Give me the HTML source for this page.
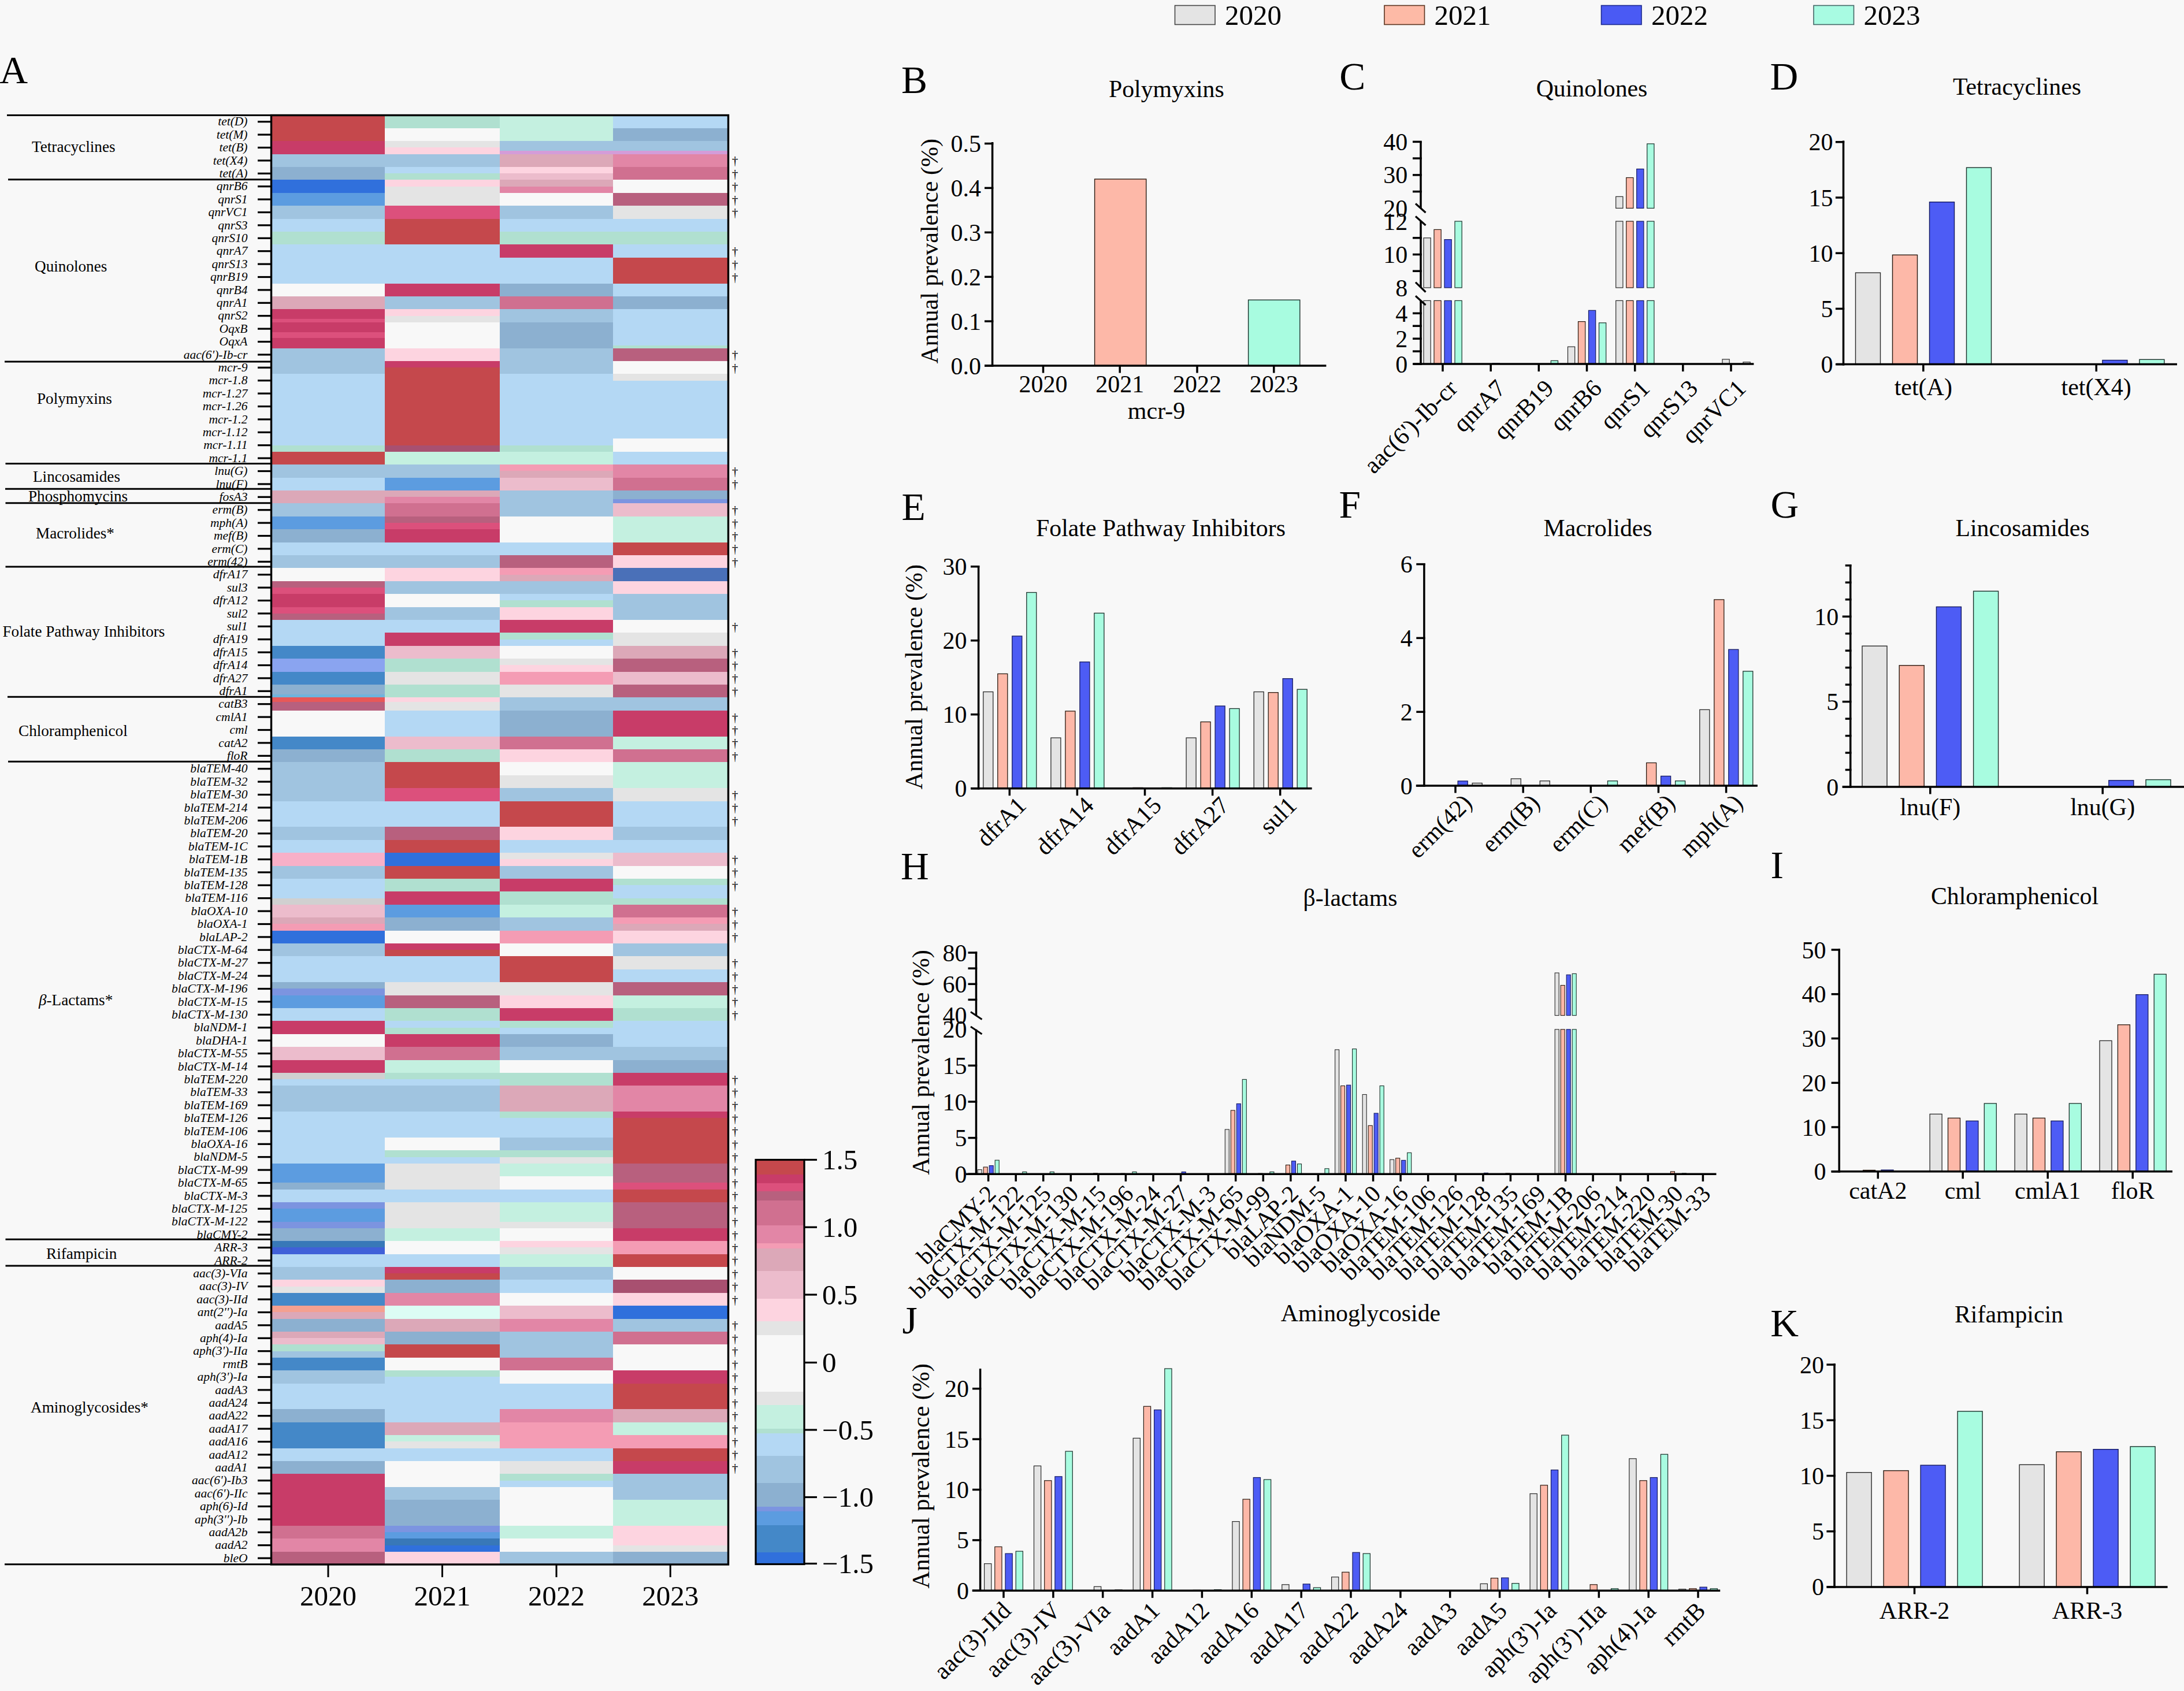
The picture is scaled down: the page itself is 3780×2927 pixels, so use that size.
<!DOCTYPE html>
<html><head><meta charset="utf-8"><title>Figure</title>
<style>html,body{margin:0;padding:0;background:#f8f8f8;}svg{display:block;}text{font-family:"Liberation Serif",serif;fill:#000;}</style></head><body>
<svg width="3780" height="2927" viewBox="0 0 3780 2927">
<rect x="0" y="0" width="3780" height="2927" fill="#f8f8f8"/>
<g shape-rendering="crispEdges">
<rect x="470.0" y="199.3" width="196.0" height="22.8" fill="#c5484c"/>
<rect x="666.0" y="199.3" width="199.0" height="22.8" fill="#b0e0d0"/>
<rect x="865.0" y="199.3" width="196.0" height="22.8" fill="#c4f0e0"/>
<rect x="1061.0" y="199.3" width="198.5" height="22.8" fill="#b4d8f4"/>
<rect x="470.0" y="221.7" width="196.0" height="22.8" fill="#c5484c"/>
<rect x="666.0" y="221.7" width="199.0" height="22.8" fill="#f8f8f8"/>
<rect x="865.0" y="221.7" width="196.0" height="22.8" fill="#c4f0e0"/>
<rect x="1061.0" y="221.7" width="198.5" height="22.8" fill="#8cb0d0"/>
<rect x="470.0" y="244.1" width="196.0" height="22.8" fill="#c83c68"/>
<rect x="666.0" y="244.1" width="199.0" height="11.6" fill="#e4e4e4"/>
<rect x="666.0" y="255.3" width="199.0" height="11.6" fill="#fdd4e0"/>
<rect x="865.0" y="244.1" width="196.0" height="6.0" fill="#a0c4e0"/>
<rect x="865.0" y="249.7" width="196.0" height="6.0" fill="#a0c4e0"/>
<rect x="865.0" y="255.3" width="196.0" height="6.0" fill="#a0c4e0"/>
<rect x="865.0" y="260.9" width="196.0" height="6.0" fill="#d49cd8"/>
<rect x="1061.0" y="244.1" width="198.5" height="6.0" fill="#a0c4e0"/>
<rect x="1061.0" y="249.7" width="198.5" height="6.0" fill="#a0c4e0"/>
<rect x="1061.0" y="255.3" width="198.5" height="6.0" fill="#a0c4e0"/>
<rect x="1061.0" y="260.9" width="198.5" height="6.0" fill="#d49cd8"/>
<rect x="470.0" y="266.5" width="196.0" height="22.8" fill="#a0c4e0"/>
<rect x="666.0" y="266.5" width="199.0" height="22.8" fill="#a0c4e0"/>
<rect x="865.0" y="266.5" width="196.0" height="22.8" fill="#dca8b8"/>
<rect x="1061.0" y="266.5" width="198.5" height="22.8" fill="#e286a6"/>
<rect x="470.0" y="288.9" width="196.0" height="22.8" fill="#8cb0d0"/>
<rect x="666.0" y="288.9" width="199.0" height="11.6" fill="#b4d8f4"/>
<rect x="666.0" y="300.1" width="199.0" height="11.6" fill="#b0e0d0"/>
<rect x="865.0" y="288.9" width="196.0" height="11.6" fill="#fdd4e0"/>
<rect x="865.0" y="300.1" width="196.0" height="11.6" fill="#ecbccc"/>
<rect x="1061.0" y="288.9" width="198.5" height="22.8" fill="#d07090"/>
<rect x="470.0" y="311.3" width="196.0" height="22.8" fill="#3070dc"/>
<rect x="666.0" y="311.3" width="199.0" height="11.6" fill="#fdd4e0"/>
<rect x="666.0" y="322.5" width="199.0" height="11.6" fill="#e4e4e4"/>
<rect x="865.0" y="311.3" width="196.0" height="11.6" fill="#dca8b8"/>
<rect x="865.0" y="322.5" width="196.0" height="11.6" fill="#e286a6"/>
<rect x="1061.0" y="311.3" width="198.5" height="22.8" fill="#f8f8f8"/>
<rect x="470.0" y="333.7" width="196.0" height="22.8" fill="#5c9ce0"/>
<rect x="666.0" y="333.7" width="199.0" height="22.8" fill="#e4e4e4"/>
<rect x="865.0" y="333.7" width="196.0" height="22.8" fill="#f8f8f8"/>
<rect x="1061.0" y="333.7" width="198.5" height="22.8" fill="#b8607e"/>
<rect x="470.0" y="356.1" width="196.0" height="22.8" fill="#a0c4e0"/>
<rect x="666.0" y="356.1" width="199.0" height="22.8" fill="#dc507c"/>
<rect x="865.0" y="356.1" width="196.0" height="22.8" fill="#a0c4e0"/>
<rect x="1061.0" y="356.1" width="198.5" height="22.8" fill="#e4e4e4"/>
<rect x="470.0" y="378.5" width="196.0" height="22.8" fill="#b4d8f4"/>
<rect x="666.0" y="378.5" width="199.0" height="22.8" fill="#c5484c"/>
<rect x="865.0" y="378.5" width="196.0" height="22.8" fill="#b4d8f4"/>
<rect x="1061.0" y="378.5" width="198.5" height="22.8" fill="#b4d8f4"/>
<rect x="470.0" y="400.9" width="196.0" height="22.8" fill="#b0e0d0"/>
<rect x="666.0" y="400.9" width="199.0" height="22.8" fill="#c5484c"/>
<rect x="865.0" y="400.9" width="196.0" height="22.8" fill="#b0e0d0"/>
<rect x="1061.0" y="400.9" width="198.5" height="22.8" fill="#b0e0d0"/>
<rect x="470.0" y="423.3" width="196.0" height="22.8" fill="#b4d8f4"/>
<rect x="666.0" y="423.3" width="199.0" height="22.8" fill="#b4d8f4"/>
<rect x="865.0" y="423.3" width="196.0" height="22.8" fill="#c83c68"/>
<rect x="1061.0" y="423.3" width="198.5" height="22.8" fill="#b4d8f4"/>
<rect x="470.0" y="445.7" width="196.0" height="22.8" fill="#b4d8f4"/>
<rect x="666.0" y="445.7" width="199.0" height="22.8" fill="#b4d8f4"/>
<rect x="865.0" y="445.7" width="196.0" height="22.8" fill="#b4d8f4"/>
<rect x="1061.0" y="445.7" width="198.5" height="22.8" fill="#c5484c"/>
<rect x="470.0" y="468.1" width="196.0" height="22.8" fill="#b4d8f4"/>
<rect x="666.0" y="468.1" width="199.0" height="22.8" fill="#b4d8f4"/>
<rect x="865.0" y="468.1" width="196.0" height="22.8" fill="#b4d8f4"/>
<rect x="1061.0" y="468.1" width="198.5" height="22.8" fill="#c5484c"/>
<rect x="470.0" y="490.5" width="196.0" height="22.8" fill="#f8f8f8"/>
<rect x="666.0" y="490.5" width="199.0" height="22.8" fill="#c83c68"/>
<rect x="865.0" y="490.5" width="196.0" height="22.8" fill="#8cb0d0"/>
<rect x="1061.0" y="490.5" width="198.5" height="22.8" fill="#b4d8f4"/>
<rect x="470.0" y="512.9" width="196.0" height="22.8" fill="#dca8b8"/>
<rect x="666.0" y="512.9" width="199.0" height="22.8" fill="#a0c4e0"/>
<rect x="865.0" y="512.9" width="196.0" height="22.8" fill="#d07090"/>
<rect x="1061.0" y="512.9" width="198.5" height="22.8" fill="#8cb0d0"/>
<rect x="470.0" y="535.3" width="196.0" height="6.0" fill="#c83c68"/>
<rect x="470.0" y="540.9" width="196.0" height="6.0" fill="#c83c68"/>
<rect x="470.0" y="546.5" width="196.0" height="6.0" fill="#c83c68"/>
<rect x="470.0" y="552.1" width="196.0" height="6.0" fill="#dc507c"/>
<rect x="666.0" y="535.3" width="199.0" height="11.6" fill="#fdd4e0"/>
<rect x="666.0" y="546.5" width="199.0" height="11.6" fill="#e4e4e4"/>
<rect x="865.0" y="535.3" width="196.0" height="22.8" fill="#a0c4e0"/>
<rect x="1061.0" y="535.3" width="198.5" height="22.8" fill="#b4d8f4"/>
<rect x="470.0" y="557.7" width="196.0" height="6.0" fill="#c83c68"/>
<rect x="470.0" y="563.3" width="196.0" height="6.0" fill="#c83c68"/>
<rect x="470.0" y="568.9" width="196.0" height="6.0" fill="#c83c68"/>
<rect x="470.0" y="574.5" width="196.0" height="6.0" fill="#dc507c"/>
<rect x="666.0" y="557.7" width="199.0" height="22.8" fill="#f8f8f8"/>
<rect x="865.0" y="557.7" width="196.0" height="22.8" fill="#8cb0d0"/>
<rect x="1061.0" y="557.7" width="198.5" height="22.8" fill="#b4d8f4"/>
<rect x="470.0" y="580.1" width="196.0" height="4.9" fill="#dc507c"/>
<rect x="470.0" y="584.6" width="196.0" height="4.9" fill="#c83c68"/>
<rect x="470.0" y="589.1" width="196.0" height="4.9" fill="#c83c68"/>
<rect x="470.0" y="593.5" width="196.0" height="4.9" fill="#c83c68"/>
<rect x="470.0" y="598.0" width="196.0" height="4.9" fill="#c83c68"/>
<rect x="666.0" y="580.1" width="199.0" height="22.8" fill="#f8f8f8"/>
<rect x="865.0" y="580.1" width="196.0" height="22.8" fill="#8cb0d0"/>
<rect x="1061.0" y="580.1" width="198.5" height="4.9" fill="#b4d8f4"/>
<rect x="1061.0" y="584.6" width="198.5" height="4.9" fill="#b4d8f4"/>
<rect x="1061.0" y="589.1" width="198.5" height="4.9" fill="#b4d8f4"/>
<rect x="1061.0" y="593.5" width="198.5" height="4.9" fill="#b4d8f4"/>
<rect x="1061.0" y="598.0" width="198.5" height="4.9" fill="#b0e0d0"/>
<rect x="470.0" y="602.5" width="196.0" height="22.8" fill="#a0c4e0"/>
<rect x="666.0" y="602.5" width="199.0" height="22.8" fill="#fdd4e0"/>
<rect x="865.0" y="602.5" width="196.0" height="22.8" fill="#a0c4e0"/>
<rect x="1061.0" y="602.5" width="198.5" height="22.8" fill="#b8607e"/>
<rect x="470.0" y="624.9" width="196.0" height="22.8" fill="#a0c4e0"/>
<rect x="666.0" y="624.9" width="199.0" height="11.6" fill="#c83c68"/>
<rect x="666.0" y="636.1" width="199.0" height="11.6" fill="#c5484c"/>
<rect x="865.0" y="624.9" width="196.0" height="22.8" fill="#a0c4e0"/>
<rect x="1061.0" y="624.9" width="198.5" height="22.8" fill="#f8f8f8"/>
<rect x="470.0" y="647.3" width="196.0" height="22.8" fill="#b4d8f4"/>
<rect x="666.0" y="647.3" width="199.0" height="22.8" fill="#c5484c"/>
<rect x="865.0" y="647.3" width="196.0" height="22.8" fill="#b4d8f4"/>
<rect x="1061.0" y="647.3" width="198.5" height="11.6" fill="#e4e4e4"/>
<rect x="1061.0" y="658.5" width="198.5" height="11.6" fill="#b4d8f4"/>
<rect x="470.0" y="669.7" width="196.0" height="22.8" fill="#b4d8f4"/>
<rect x="666.0" y="669.7" width="199.0" height="22.8" fill="#c5484c"/>
<rect x="865.0" y="669.7" width="196.0" height="22.8" fill="#b4d8f4"/>
<rect x="1061.0" y="669.7" width="198.5" height="22.8" fill="#b4d8f4"/>
<rect x="470.0" y="692.1" width="196.0" height="22.8" fill="#b4d8f4"/>
<rect x="666.0" y="692.1" width="199.0" height="22.8" fill="#c5484c"/>
<rect x="865.0" y="692.1" width="196.0" height="22.8" fill="#b4d8f4"/>
<rect x="1061.0" y="692.1" width="198.5" height="22.8" fill="#b4d8f4"/>
<rect x="470.0" y="714.5" width="196.0" height="22.8" fill="#b4d8f4"/>
<rect x="666.0" y="714.5" width="199.0" height="22.8" fill="#c5484c"/>
<rect x="865.0" y="714.5" width="196.0" height="22.8" fill="#b4d8f4"/>
<rect x="1061.0" y="714.5" width="198.5" height="22.8" fill="#b4d8f4"/>
<rect x="470.0" y="736.9" width="196.0" height="22.8" fill="#b4d8f4"/>
<rect x="666.0" y="736.9" width="199.0" height="22.8" fill="#c5484c"/>
<rect x="865.0" y="736.9" width="196.0" height="22.8" fill="#b4d8f4"/>
<rect x="1061.0" y="736.9" width="198.5" height="22.8" fill="#b4d8f4"/>
<rect x="470.0" y="759.3" width="196.0" height="11.6" fill="#b4d8f4"/>
<rect x="470.0" y="770.5" width="196.0" height="11.6" fill="#b0e0d0"/>
<rect x="666.0" y="759.3" width="199.0" height="11.6" fill="#c5484c"/>
<rect x="666.0" y="770.5" width="199.0" height="11.6" fill="#a85070"/>
<rect x="865.0" y="759.3" width="196.0" height="11.6" fill="#b4d8f4"/>
<rect x="865.0" y="770.5" width="196.0" height="11.6" fill="#b0e0d0"/>
<rect x="1061.0" y="759.3" width="198.5" height="22.8" fill="#f8f8f8"/>
<rect x="470.0" y="781.7" width="196.0" height="22.8" fill="#c5484c"/>
<rect x="666.0" y="781.7" width="199.0" height="22.8" fill="#c4f0e0"/>
<rect x="865.0" y="781.7" width="196.0" height="22.8" fill="#c4f0e0"/>
<rect x="1061.0" y="781.7" width="198.5" height="22.8" fill="#b4d8f4"/>
<rect x="470.0" y="804.1" width="196.0" height="22.8" fill="#a0c4e0"/>
<rect x="666.0" y="804.1" width="199.0" height="22.8" fill="#a0c4e0"/>
<rect x="865.0" y="804.1" width="196.0" height="11.6" fill="#f49cb4"/>
<rect x="865.0" y="815.3" width="196.0" height="11.6" fill="#dca8b8"/>
<rect x="1061.0" y="804.1" width="198.5" height="22.8" fill="#e286a6"/>
<rect x="470.0" y="826.5" width="196.0" height="22.8" fill="#b4d8f4"/>
<rect x="666.0" y="826.5" width="199.0" height="22.8" fill="#5c9ce0"/>
<rect x="865.0" y="826.5" width="196.0" height="22.8" fill="#ecbccc"/>
<rect x="1061.0" y="826.5" width="198.5" height="22.8" fill="#d07090"/>
<rect x="470.0" y="848.9" width="196.0" height="22.8" fill="#dca8b8"/>
<rect x="666.0" y="848.9" width="199.0" height="11.6" fill="#dca8b8"/>
<rect x="666.0" y="860.1" width="199.0" height="11.6" fill="#e286a6"/>
<rect x="865.0" y="848.9" width="196.0" height="22.8" fill="#a0c4e0"/>
<rect x="1061.0" y="848.9" width="198.5" height="7.9" fill="#8cb0d0"/>
<rect x="1061.0" y="856.4" width="198.5" height="7.9" fill="#8cb0d0"/>
<rect x="1061.0" y="863.8" width="198.5" height="7.9" fill="#7c94e0"/>
<rect x="470.0" y="871.3" width="196.0" height="22.8" fill="#a0c4e0"/>
<rect x="666.0" y="871.3" width="199.0" height="22.8" fill="#d07090"/>
<rect x="865.0" y="871.3" width="196.0" height="22.8" fill="#a0c4e0"/>
<rect x="1061.0" y="871.3" width="198.5" height="22.8" fill="#ecbccc"/>
<rect x="470.0" y="893.7" width="196.0" height="22.8" fill="#5c9ce0"/>
<rect x="666.0" y="893.7" width="199.0" height="11.6" fill="#b8607e"/>
<rect x="666.0" y="904.9" width="199.0" height="11.6" fill="#dc507c"/>
<rect x="865.0" y="893.7" width="196.0" height="22.8" fill="#f8f8f8"/>
<rect x="1061.0" y="893.7" width="198.5" height="22.8" fill="#c4f0e0"/>
<rect x="470.0" y="916.1" width="196.0" height="22.8" fill="#8cb0d0"/>
<rect x="666.0" y="916.1" width="199.0" height="22.8" fill="#c83c68"/>
<rect x="865.0" y="916.1" width="196.0" height="22.8" fill="#f8f8f8"/>
<rect x="1061.0" y="916.1" width="198.5" height="22.8" fill="#c4f0e0"/>
<rect x="470.0" y="938.5" width="196.0" height="22.8" fill="#b4d8f4"/>
<rect x="666.0" y="938.5" width="199.0" height="22.8" fill="#b4d8f4"/>
<rect x="865.0" y="938.5" width="196.0" height="22.8" fill="#b4d8f4"/>
<rect x="1061.0" y="938.5" width="198.5" height="22.8" fill="#c5484c"/>
<rect x="470.0" y="960.9" width="196.0" height="22.8" fill="#a0c4e0"/>
<rect x="666.0" y="960.9" width="199.0" height="22.8" fill="#a0c4e0"/>
<rect x="865.0" y="960.9" width="196.0" height="22.8" fill="#b8607e"/>
<rect x="1061.0" y="960.9" width="198.5" height="22.8" fill="#fdd4e0"/>
<rect x="470.0" y="983.3" width="196.0" height="22.8" fill="#f8f8f8"/>
<rect x="666.0" y="983.3" width="199.0" height="22.8" fill="#fdd4e0"/>
<rect x="865.0" y="983.3" width="196.0" height="11.6" fill="#f49cb4"/>
<rect x="865.0" y="994.5" width="196.0" height="11.6" fill="#dca8b8"/>
<rect x="1061.0" y="983.3" width="198.5" height="22.8" fill="#4a70b8"/>
<rect x="470.0" y="1005.7" width="196.0" height="11.6" fill="#b8607e"/>
<rect x="470.0" y="1016.9" width="196.0" height="11.6" fill="#dc507c"/>
<rect x="666.0" y="1005.7" width="199.0" height="22.8" fill="#a0c4e0"/>
<rect x="865.0" y="1005.7" width="196.0" height="22.8" fill="#a0c4e0"/>
<rect x="1061.0" y="1005.7" width="198.5" height="22.8" fill="#fdd4e0"/>
<rect x="470.0" y="1028.1" width="196.0" height="22.8" fill="#c83c68"/>
<rect x="666.0" y="1028.1" width="199.0" height="22.8" fill="#f8f8f8"/>
<rect x="865.0" y="1028.1" width="196.0" height="11.6" fill="#b4d8f4"/>
<rect x="865.0" y="1039.3" width="196.0" height="11.6" fill="#b0e0d0"/>
<rect x="1061.0" y="1028.1" width="198.5" height="22.8" fill="#a0c4e0"/>
<rect x="470.0" y="1050.5" width="196.0" height="11.6" fill="#dc507c"/>
<rect x="470.0" y="1061.7" width="196.0" height="11.6" fill="#b8607e"/>
<rect x="666.0" y="1050.5" width="199.0" height="22.8" fill="#a0c4e0"/>
<rect x="865.0" y="1050.5" width="196.0" height="22.8" fill="#fdd4e0"/>
<rect x="1061.0" y="1050.5" width="198.5" height="22.8" fill="#a0c4e0"/>
<rect x="470.0" y="1072.9" width="196.0" height="22.8" fill="#b4d8f4"/>
<rect x="666.0" y="1072.9" width="199.0" height="22.8" fill="#b4d8f4"/>
<rect x="865.0" y="1072.9" width="196.0" height="22.8" fill="#c83c68"/>
<rect x="1061.0" y="1072.9" width="198.5" height="22.8" fill="#f8f8f8"/>
<rect x="470.0" y="1095.3" width="196.0" height="22.8" fill="#b4d8f4"/>
<rect x="666.0" y="1095.3" width="199.0" height="22.8" fill="#c83c68"/>
<rect x="865.0" y="1095.3" width="196.0" height="11.6" fill="#b0e0d0"/>
<rect x="865.0" y="1106.5" width="196.0" height="11.6" fill="#b4d8f4"/>
<rect x="1061.0" y="1095.3" width="198.5" height="22.8" fill="#e4e4e4"/>
<rect x="470.0" y="1117.7" width="196.0" height="22.8" fill="#4488c8"/>
<rect x="666.0" y="1117.7" width="199.0" height="22.8" fill="#ecbccc"/>
<rect x="865.0" y="1117.7" width="196.0" height="22.8" fill="#f8f8f8"/>
<rect x="1061.0" y="1117.7" width="198.5" height="22.8" fill="#dca8b8"/>
<rect x="470.0" y="1140.1" width="196.0" height="22.8" fill="#8aa4f0"/>
<rect x="666.0" y="1140.1" width="199.0" height="22.8" fill="#b0e0d0"/>
<rect x="865.0" y="1140.1" width="196.0" height="11.6" fill="#e4e4e4"/>
<rect x="865.0" y="1151.3" width="196.0" height="11.6" fill="#fdd4e0"/>
<rect x="1061.0" y="1140.1" width="198.5" height="22.8" fill="#b8607e"/>
<rect x="470.0" y="1162.5" width="196.0" height="22.8" fill="#4488c8"/>
<rect x="666.0" y="1162.5" width="199.0" height="22.8" fill="#e4e4e4"/>
<rect x="865.0" y="1162.5" width="196.0" height="22.8" fill="#f49cb4"/>
<rect x="1061.0" y="1162.5" width="198.5" height="22.8" fill="#ecbccc"/>
<rect x="470.0" y="1184.9" width="196.0" height="6.0" fill="#8cb0d0"/>
<rect x="470.0" y="1190.5" width="196.0" height="6.0" fill="#8cb0d0"/>
<rect x="470.0" y="1196.1" width="196.0" height="6.0" fill="#8cb0d0"/>
<rect x="470.0" y="1201.7" width="196.0" height="6.0" fill="#70b4dc"/>
<rect x="666.0" y="1184.9" width="199.0" height="22.8" fill="#b0e0d0"/>
<rect x="865.0" y="1184.9" width="196.0" height="22.8" fill="#e4e4e4"/>
<rect x="1061.0" y="1184.9" width="198.5" height="22.8" fill="#b8607e"/>
<rect x="470.0" y="1207.3" width="196.0" height="7.9" fill="#e85858"/>
<rect x="470.0" y="1214.8" width="196.0" height="7.9" fill="#b8607e"/>
<rect x="470.0" y="1222.2" width="196.0" height="7.9" fill="#b8607e"/>
<rect x="666.0" y="1207.3" width="199.0" height="7.9" fill="#fdd4e0"/>
<rect x="666.0" y="1214.8" width="199.0" height="7.9" fill="#e4e4e4"/>
<rect x="666.0" y="1222.2" width="199.0" height="7.9" fill="#e4e4e4"/>
<rect x="865.0" y="1207.3" width="196.0" height="22.8" fill="#a0c4e0"/>
<rect x="1061.0" y="1207.3" width="198.5" height="22.8" fill="#a0c4e0"/>
<rect x="470.0" y="1229.7" width="196.0" height="22.8" fill="#f8f8f8"/>
<rect x="666.0" y="1229.7" width="199.0" height="22.8" fill="#b4d8f4"/>
<rect x="865.0" y="1229.7" width="196.0" height="22.8" fill="#8cb0d0"/>
<rect x="1061.0" y="1229.7" width="198.5" height="22.8" fill="#c83c68"/>
<rect x="470.0" y="1252.1" width="196.0" height="22.8" fill="#f8f8f8"/>
<rect x="666.0" y="1252.1" width="199.0" height="22.8" fill="#b4d8f4"/>
<rect x="865.0" y="1252.1" width="196.0" height="22.8" fill="#8cb0d0"/>
<rect x="1061.0" y="1252.1" width="198.5" height="22.8" fill="#c83c68"/>
<rect x="470.0" y="1274.5" width="196.0" height="22.8" fill="#4488c8"/>
<rect x="666.0" y="1274.5" width="199.0" height="22.8" fill="#ecbccc"/>
<rect x="865.0" y="1274.5" width="196.0" height="22.8" fill="#d07090"/>
<rect x="1061.0" y="1274.5" width="198.5" height="22.8" fill="#c4f0e0"/>
<rect x="470.0" y="1296.9" width="196.0" height="22.8" fill="#8cb0d0"/>
<rect x="666.0" y="1296.9" width="199.0" height="22.8" fill="#b0e0d0"/>
<rect x="865.0" y="1296.9" width="196.0" height="22.8" fill="#fdd4e0"/>
<rect x="1061.0" y="1296.9" width="198.5" height="22.8" fill="#d07090"/>
<rect x="470.0" y="1319.3" width="196.0" height="22.8" fill="#a0c4e0"/>
<rect x="666.0" y="1319.3" width="199.0" height="22.8" fill="#c5484c"/>
<rect x="865.0" y="1319.3" width="196.0" height="22.8" fill="#f8f8f8"/>
<rect x="1061.0" y="1319.3" width="198.5" height="22.8" fill="#c4f0e0"/>
<rect x="470.0" y="1341.7" width="196.0" height="22.8" fill="#a0c4e0"/>
<rect x="666.0" y="1341.7" width="199.0" height="22.8" fill="#c5484c"/>
<rect x="865.0" y="1341.7" width="196.0" height="22.8" fill="#e4e4e4"/>
<rect x="1061.0" y="1341.7" width="198.5" height="22.8" fill="#c4f0e0"/>
<rect x="470.0" y="1364.1" width="196.0" height="22.8" fill="#a0c4e0"/>
<rect x="666.0" y="1364.1" width="199.0" height="22.8" fill="#dc507c"/>
<rect x="865.0" y="1364.1" width="196.0" height="22.8" fill="#a0c4e0"/>
<rect x="1061.0" y="1364.1" width="198.5" height="22.8" fill="#e4e4e4"/>
<rect x="470.0" y="1386.5" width="196.0" height="22.8" fill="#b4d8f4"/>
<rect x="666.0" y="1386.5" width="199.0" height="22.8" fill="#b4d8f4"/>
<rect x="865.0" y="1386.5" width="196.0" height="22.8" fill="#c5484c"/>
<rect x="1061.0" y="1386.5" width="198.5" height="22.8" fill="#b4d8f4"/>
<rect x="470.0" y="1408.9" width="196.0" height="22.8" fill="#b4d8f4"/>
<rect x="666.0" y="1408.9" width="199.0" height="22.8" fill="#b4d8f4"/>
<rect x="865.0" y="1408.9" width="196.0" height="22.8" fill="#c5484c"/>
<rect x="1061.0" y="1408.9" width="198.5" height="22.8" fill="#b4d8f4"/>
<rect x="470.0" y="1431.3" width="196.0" height="22.8" fill="#a0c4e0"/>
<rect x="666.0" y="1431.3" width="199.0" height="22.8" fill="#b8607e"/>
<rect x="865.0" y="1431.3" width="196.0" height="22.8" fill="#fdd4e0"/>
<rect x="1061.0" y="1431.3" width="198.5" height="22.8" fill="#a0c4e0"/>
<rect x="470.0" y="1453.7" width="196.0" height="22.8" fill="#b4d8f4"/>
<rect x="666.0" y="1453.7" width="199.0" height="22.8" fill="#c5484c"/>
<rect x="865.0" y="1453.7" width="196.0" height="22.8" fill="#b4d8f4"/>
<rect x="1061.0" y="1453.7" width="198.5" height="22.8" fill="#b4d8f4"/>
<rect x="470.0" y="1476.1" width="196.0" height="22.8" fill="#f8b0c8"/>
<rect x="666.0" y="1476.1" width="199.0" height="22.8" fill="#3070dc"/>
<rect x="865.0" y="1476.1" width="196.0" height="11.6" fill="#e4e4e4"/>
<rect x="865.0" y="1487.3" width="196.0" height="11.6" fill="#fdd4e0"/>
<rect x="1061.0" y="1476.1" width="198.5" height="22.8" fill="#ecbccc"/>
<rect x="470.0" y="1498.5" width="196.0" height="22.8" fill="#a0c4e0"/>
<rect x="666.0" y="1498.5" width="199.0" height="22.8" fill="#c5484c"/>
<rect x="865.0" y="1498.5" width="196.0" height="22.8" fill="#a0c4e0"/>
<rect x="1061.0" y="1498.5" width="198.5" height="22.8" fill="#f8f8f8"/>
<rect x="470.0" y="1520.9" width="196.0" height="22.8" fill="#b4d8f4"/>
<rect x="666.0" y="1520.9" width="199.0" height="22.8" fill="#b0e0d0"/>
<rect x="865.0" y="1520.9" width="196.0" height="22.8" fill="#c83c68"/>
<rect x="1061.0" y="1520.9" width="198.5" height="11.6" fill="#b0e0d0"/>
<rect x="1061.0" y="1532.1" width="198.5" height="11.6" fill="#b4d8f4"/>
<rect x="470.0" y="1543.3" width="196.0" height="11.6" fill="#b4d8f4"/>
<rect x="470.0" y="1554.5" width="196.0" height="11.6" fill="#d0d0d0"/>
<rect x="666.0" y="1543.3" width="199.0" height="22.8" fill="#c83c68"/>
<rect x="865.0" y="1543.3" width="196.0" height="22.8" fill="#b0e0d0"/>
<rect x="1061.0" y="1543.3" width="198.5" height="11.6" fill="#b4d8f4"/>
<rect x="1061.0" y="1554.5" width="198.5" height="11.6" fill="#b0e0d0"/>
<rect x="470.0" y="1565.7" width="196.0" height="22.8" fill="#ecbccc"/>
<rect x="666.0" y="1565.7" width="199.0" height="22.8" fill="#5c9ce0"/>
<rect x="865.0" y="1565.7" width="196.0" height="22.8" fill="#c4f0e0"/>
<rect x="1061.0" y="1565.7" width="198.5" height="22.8" fill="#d07090"/>
<rect x="470.0" y="1588.1" width="196.0" height="11.6" fill="#dca8b8"/>
<rect x="470.0" y="1599.3" width="196.0" height="11.6" fill="#f49cb4"/>
<rect x="666.0" y="1588.1" width="199.0" height="22.8" fill="#8cb0d0"/>
<rect x="865.0" y="1588.1" width="196.0" height="22.8" fill="#a0c4e0"/>
<rect x="1061.0" y="1588.1" width="198.5" height="11.6" fill="#f49cb4"/>
<rect x="1061.0" y="1599.3" width="198.5" height="11.6" fill="#dca8b8"/>
<rect x="470.0" y="1610.5" width="196.0" height="22.8" fill="#3070dc"/>
<rect x="666.0" y="1610.5" width="199.0" height="22.8" fill="#f8f8f8"/>
<rect x="865.0" y="1610.5" width="196.0" height="22.8" fill="#f49cb4"/>
<rect x="1061.0" y="1610.5" width="198.5" height="22.8" fill="#fdd4e0"/>
<rect x="470.0" y="1632.9" width="196.0" height="22.8" fill="#a0c4e0"/>
<rect x="666.0" y="1632.9" width="199.0" height="11.6" fill="#c83c68"/>
<rect x="666.0" y="1644.1" width="199.0" height="11.6" fill="#c5484c"/>
<rect x="865.0" y="1632.9" width="196.0" height="22.8" fill="#f8f8f8"/>
<rect x="1061.0" y="1632.9" width="198.5" height="22.8" fill="#a0c4e0"/>
<rect x="470.0" y="1655.3" width="196.0" height="22.8" fill="#b4d8f4"/>
<rect x="666.0" y="1655.3" width="199.0" height="22.8" fill="#b4d8f4"/>
<rect x="865.0" y="1655.3" width="196.0" height="22.8" fill="#c5484c"/>
<rect x="1061.0" y="1655.3" width="198.5" height="22.8" fill="#e4e4e4"/>
<rect x="470.0" y="1677.7" width="196.0" height="22.8" fill="#b4d8f4"/>
<rect x="666.0" y="1677.7" width="199.0" height="22.8" fill="#b4d8f4"/>
<rect x="865.0" y="1677.7" width="196.0" height="22.8" fill="#c5484c"/>
<rect x="1061.0" y="1677.7" width="198.5" height="22.8" fill="#b4d8f4"/>
<rect x="470.0" y="1700.1" width="196.0" height="11.6" fill="#8cb0d0"/>
<rect x="470.0" y="1711.3" width="196.0" height="11.6" fill="#7c94e0"/>
<rect x="666.0" y="1700.1" width="199.0" height="22.8" fill="#e4e4e4"/>
<rect x="865.0" y="1700.1" width="196.0" height="22.8" fill="#e4e4e4"/>
<rect x="1061.0" y="1700.1" width="198.5" height="22.8" fill="#b8607e"/>
<rect x="470.0" y="1722.5" width="196.0" height="22.8" fill="#5c9ce0"/>
<rect x="666.0" y="1722.5" width="199.0" height="22.8" fill="#b8607e"/>
<rect x="865.0" y="1722.5" width="196.0" height="22.8" fill="#fdd4e0"/>
<rect x="1061.0" y="1722.5" width="198.5" height="22.8" fill="#c4f0e0"/>
<rect x="470.0" y="1744.9" width="196.0" height="22.8" fill="#b4d8f4"/>
<rect x="666.0" y="1744.9" width="199.0" height="22.8" fill="#b0e0d0"/>
<rect x="865.0" y="1744.9" width="196.0" height="22.8" fill="#c83c68"/>
<rect x="1061.0" y="1744.9" width="198.5" height="22.8" fill="#b0e0d0"/>
<rect x="470.0" y="1767.3" width="196.0" height="22.8" fill="#c83c68"/>
<rect x="666.0" y="1767.3" width="199.0" height="11.6" fill="#b4d8f4"/>
<rect x="666.0" y="1778.5" width="199.0" height="11.6" fill="#b0e0d0"/>
<rect x="865.0" y="1767.3" width="196.0" height="11.6" fill="#b0e0d0"/>
<rect x="865.0" y="1778.5" width="196.0" height="11.6" fill="#b4d8f4"/>
<rect x="1061.0" y="1767.3" width="198.5" height="22.8" fill="#b4d8f4"/>
<rect x="470.0" y="1789.7" width="196.0" height="22.8" fill="#f8f8f8"/>
<rect x="666.0" y="1789.7" width="199.0" height="22.8" fill="#c83c68"/>
<rect x="865.0" y="1789.7" width="196.0" height="22.8" fill="#8cb0d0"/>
<rect x="1061.0" y="1789.7" width="198.5" height="22.8" fill="#b4d8f4"/>
<rect x="470.0" y="1812.1" width="196.0" height="22.8" fill="#ecbccc"/>
<rect x="666.0" y="1812.1" width="199.0" height="22.8" fill="#d07090"/>
<rect x="865.0" y="1812.1" width="196.0" height="22.8" fill="#a0c4e0"/>
<rect x="1061.0" y="1812.1" width="198.5" height="22.8" fill="#a0c4e0"/>
<rect x="470.0" y="1834.5" width="196.0" height="22.8" fill="#c83c68"/>
<rect x="666.0" y="1834.5" width="199.0" height="22.8" fill="#c4f0e0"/>
<rect x="865.0" y="1834.5" width="196.0" height="22.8" fill="#f8f8f8"/>
<rect x="1061.0" y="1834.5" width="198.5" height="22.8" fill="#8cb0d0"/>
<rect x="470.0" y="1856.9" width="196.0" height="11.6" fill="#d0d0d0"/>
<rect x="470.0" y="1868.1" width="196.0" height="11.6" fill="#b4d8f4"/>
<rect x="666.0" y="1856.9" width="199.0" height="11.6" fill="#b0e0d0"/>
<rect x="666.0" y="1868.1" width="199.0" height="11.6" fill="#b4d8f4"/>
<rect x="865.0" y="1856.9" width="196.0" height="22.8" fill="#b0e0d0"/>
<rect x="1061.0" y="1856.9" width="198.5" height="22.8" fill="#c83c68"/>
<rect x="470.0" y="1879.3" width="196.0" height="22.8" fill="#a0c4e0"/>
<rect x="666.0" y="1879.3" width="199.0" height="22.8" fill="#a0c4e0"/>
<rect x="865.0" y="1879.3" width="196.0" height="22.8" fill="#dca8b8"/>
<rect x="1061.0" y="1879.3" width="198.5" height="22.8" fill="#e286a6"/>
<rect x="470.0" y="1901.7" width="196.0" height="22.8" fill="#a0c4e0"/>
<rect x="666.0" y="1901.7" width="199.0" height="22.8" fill="#a0c4e0"/>
<rect x="865.0" y="1901.7" width="196.0" height="22.8" fill="#dca8b8"/>
<rect x="1061.0" y="1901.7" width="198.5" height="22.8" fill="#e286a6"/>
<rect x="470.0" y="1924.1" width="196.0" height="22.8" fill="#b4d8f4"/>
<rect x="666.0" y="1924.1" width="199.0" height="22.8" fill="#b4d8f4"/>
<rect x="865.0" y="1924.1" width="196.0" height="11.6" fill="#b0e0d0"/>
<rect x="865.0" y="1935.3" width="196.0" height="11.6" fill="#b4d8f4"/>
<rect x="1061.0" y="1924.1" width="198.5" height="11.6" fill="#c83c68"/>
<rect x="1061.0" y="1935.3" width="198.5" height="11.6" fill="#c5484c"/>
<rect x="470.0" y="1946.5" width="196.0" height="22.8" fill="#b4d8f4"/>
<rect x="666.0" y="1946.5" width="199.0" height="22.8" fill="#b4d8f4"/>
<rect x="865.0" y="1946.5" width="196.0" height="22.8" fill="#b4d8f4"/>
<rect x="1061.0" y="1946.5" width="198.5" height="22.8" fill="#c5484c"/>
<rect x="470.0" y="1968.9" width="196.0" height="22.8" fill="#b4d8f4"/>
<rect x="666.0" y="1968.9" width="199.0" height="22.8" fill="#f8f8f8"/>
<rect x="865.0" y="1968.9" width="196.0" height="22.8" fill="#a0c4e0"/>
<rect x="1061.0" y="1968.9" width="198.5" height="22.8" fill="#c5484c"/>
<rect x="470.0" y="1991.3" width="196.0" height="22.8" fill="#b4d8f4"/>
<rect x="666.0" y="1991.3" width="199.0" height="11.6" fill="#b0e0d0"/>
<rect x="666.0" y="2002.5" width="199.0" height="11.6" fill="#b4d8f4"/>
<rect x="865.0" y="1991.3" width="196.0" height="11.6" fill="#b0e0d0"/>
<rect x="865.0" y="2002.5" width="196.0" height="11.6" fill="#e4e4e4"/>
<rect x="1061.0" y="1991.3" width="198.5" height="22.8" fill="#c5484c"/>
<rect x="470.0" y="2013.7" width="196.0" height="22.8" fill="#5c9ce0"/>
<rect x="666.0" y="2013.7" width="199.0" height="22.8" fill="#e4e4e4"/>
<rect x="865.0" y="2013.7" width="196.0" height="22.8" fill="#c4f0e0"/>
<rect x="1061.0" y="2013.7" width="198.5" height="22.8" fill="#b8607e"/>
<rect x="470.0" y="2036.1" width="196.0" height="11.6" fill="#5c9ce0"/>
<rect x="470.0" y="2047.3" width="196.0" height="11.6" fill="#8cb0d0"/>
<rect x="666.0" y="2036.1" width="199.0" height="22.8" fill="#e4e4e4"/>
<rect x="865.0" y="2036.1" width="196.0" height="22.8" fill="#f8f8f8"/>
<rect x="1061.0" y="2036.1" width="198.5" height="11.6" fill="#b8607e"/>
<rect x="1061.0" y="2047.3" width="198.5" height="11.6" fill="#dc507c"/>
<rect x="470.0" y="2058.5" width="196.0" height="22.8" fill="#b4d8f4"/>
<rect x="666.0" y="2058.5" width="199.0" height="22.8" fill="#b4d8f4"/>
<rect x="865.0" y="2058.5" width="196.0" height="22.8" fill="#b4d8f4"/>
<rect x="1061.0" y="2058.5" width="198.5" height="22.8" fill="#c5484c"/>
<rect x="470.0" y="2080.9" width="196.0" height="11.6" fill="#7c94e0"/>
<rect x="470.0" y="2092.1" width="196.0" height="11.6" fill="#5c9ce0"/>
<rect x="666.0" y="2080.9" width="199.0" height="22.8" fill="#e4e4e4"/>
<rect x="865.0" y="2080.9" width="196.0" height="22.8" fill="#c4f0e0"/>
<rect x="1061.0" y="2080.9" width="198.5" height="22.8" fill="#b8607e"/>
<rect x="470.0" y="2103.3" width="196.0" height="11.6" fill="#5c9ce0"/>
<rect x="470.0" y="2114.5" width="196.0" height="11.6" fill="#7c94e0"/>
<rect x="666.0" y="2103.3" width="199.0" height="22.8" fill="#e4e4e4"/>
<rect x="865.0" y="2103.3" width="196.0" height="11.6" fill="#c4f0e0"/>
<rect x="865.0" y="2114.5" width="196.0" height="11.6" fill="#e4e4e4"/>
<rect x="1061.0" y="2103.3" width="198.5" height="22.8" fill="#b8607e"/>
<rect x="470.0" y="2125.7" width="196.0" height="22.8" fill="#8cb0d0"/>
<rect x="666.0" y="2125.7" width="199.0" height="22.8" fill="#c4f0e0"/>
<rect x="865.0" y="2125.7" width="196.0" height="22.8" fill="#f8f8f8"/>
<rect x="1061.0" y="2125.7" width="198.5" height="22.8" fill="#c83c68"/>
<rect x="470.0" y="2148.1" width="196.0" height="11.6" fill="#3878b8"/>
<rect x="470.0" y="2159.3" width="196.0" height="11.6" fill="#4060d8"/>
<rect x="666.0" y="2148.1" width="199.0" height="22.8" fill="#f8f8f8"/>
<rect x="865.0" y="2148.1" width="196.0" height="11.6" fill="#fdd4e0"/>
<rect x="865.0" y="2159.3" width="196.0" height="11.6" fill="#e4e4e4"/>
<rect x="1061.0" y="2148.1" width="198.5" height="22.8" fill="#f49cb4"/>
<rect x="470.0" y="2170.5" width="196.0" height="22.8" fill="#b4d8f4"/>
<rect x="666.0" y="2170.5" width="199.0" height="22.8" fill="#b4d8f4"/>
<rect x="865.0" y="2170.5" width="196.0" height="22.8" fill="#c4f0e0"/>
<rect x="1061.0" y="2170.5" width="198.5" height="22.8" fill="#c5484c"/>
<rect x="470.0" y="2192.9" width="196.0" height="22.8" fill="#a0c4e0"/>
<rect x="666.0" y="2192.9" width="199.0" height="11.6" fill="#c83c68"/>
<rect x="666.0" y="2204.1" width="199.0" height="11.6" fill="#c5484c"/>
<rect x="865.0" y="2192.9" width="196.0" height="22.8" fill="#a0c4e0"/>
<rect x="1061.0" y="2192.9" width="198.5" height="22.8" fill="#f8f8f8"/>
<rect x="470.0" y="2215.3" width="196.0" height="11.6" fill="#fdd4e0"/>
<rect x="470.0" y="2226.5" width="196.0" height="11.6" fill="#e4e4e4"/>
<rect x="666.0" y="2215.3" width="199.0" height="22.8" fill="#8cb0d0"/>
<rect x="865.0" y="2215.3" width="196.0" height="22.8" fill="#b4d8f4"/>
<rect x="1061.0" y="2215.3" width="198.5" height="22.8" fill="#a85070"/>
<rect x="470.0" y="2237.7" width="196.0" height="22.8" fill="#4488c8"/>
<rect x="666.0" y="2237.7" width="199.0" height="22.8" fill="#e286a6"/>
<rect x="865.0" y="2237.7" width="196.0" height="22.8" fill="#f8f8f8"/>
<rect x="1061.0" y="2237.7" width="198.5" height="22.8" fill="#fdd4e0"/>
<rect x="470.0" y="2260.1" width="196.0" height="11.6" fill="#f4a090"/>
<rect x="470.0" y="2271.3" width="196.0" height="11.6" fill="#dca8b8"/>
<rect x="666.0" y="2260.1" width="199.0" height="22.8" fill="#dcfcf4"/>
<rect x="865.0" y="2260.1" width="196.0" height="22.8" fill="#ecbccc"/>
<rect x="1061.0" y="2260.1" width="198.5" height="22.8" fill="#3070dc"/>
<rect x="470.0" y="2282.5" width="196.0" height="22.8" fill="#8cb0d0"/>
<rect x="666.0" y="2282.5" width="199.0" height="22.8" fill="#dca8b8"/>
<rect x="865.0" y="2282.5" width="196.0" height="22.8" fill="#e286a6"/>
<rect x="1061.0" y="2282.5" width="198.5" height="22.8" fill="#a0c4e0"/>
<rect x="470.0" y="2304.9" width="196.0" height="11.6" fill="#dca8b8"/>
<rect x="470.0" y="2316.1" width="196.0" height="11.6" fill="#ecbccc"/>
<rect x="666.0" y="2304.9" width="199.0" height="22.8" fill="#8cb0d0"/>
<rect x="865.0" y="2304.9" width="196.0" height="22.8" fill="#a0c4e0"/>
<rect x="1061.0" y="2304.9" width="198.5" height="22.8" fill="#d07090"/>
<rect x="470.0" y="2327.3" width="196.0" height="11.6" fill="#b0e0d0"/>
<rect x="470.0" y="2338.5" width="196.0" height="11.6" fill="#a0c4e0"/>
<rect x="666.0" y="2327.3" width="199.0" height="22.8" fill="#c5484c"/>
<rect x="865.0" y="2327.3" width="196.0" height="22.8" fill="#a0c4e0"/>
<rect x="1061.0" y="2327.3" width="198.5" height="22.8" fill="#f8f8f8"/>
<rect x="470.0" y="2349.7" width="196.0" height="22.8" fill="#4488c8"/>
<rect x="666.0" y="2349.7" width="199.0" height="22.8" fill="#f8f8f8"/>
<rect x="865.0" y="2349.7" width="196.0" height="22.8" fill="#d07090"/>
<rect x="1061.0" y="2349.7" width="198.5" height="22.8" fill="#f8f8f8"/>
<rect x="470.0" y="2372.1" width="196.0" height="22.8" fill="#a0c4e0"/>
<rect x="666.0" y="2372.1" width="199.0" height="11.6" fill="#b0e0d0"/>
<rect x="666.0" y="2383.3" width="199.0" height="11.6" fill="#b4d8f4"/>
<rect x="865.0" y="2372.1" width="196.0" height="22.8" fill="#f8f8f8"/>
<rect x="1061.0" y="2372.1" width="198.5" height="22.8" fill="#c83c68"/>
<rect x="470.0" y="2394.5" width="196.0" height="22.8" fill="#b4d8f4"/>
<rect x="666.0" y="2394.5" width="199.0" height="22.8" fill="#b4d8f4"/>
<rect x="865.0" y="2394.5" width="196.0" height="22.8" fill="#b4d8f4"/>
<rect x="1061.0" y="2394.5" width="198.5" height="22.8" fill="#c5484c"/>
<rect x="470.0" y="2416.9" width="196.0" height="22.8" fill="#b4d8f4"/>
<rect x="666.0" y="2416.9" width="199.0" height="22.8" fill="#b4d8f4"/>
<rect x="865.0" y="2416.9" width="196.0" height="22.8" fill="#b4d8f4"/>
<rect x="1061.0" y="2416.9" width="198.5" height="22.8" fill="#c5484c"/>
<rect x="470.0" y="2439.3" width="196.0" height="22.8" fill="#8cb0d0"/>
<rect x="666.0" y="2439.3" width="199.0" height="22.8" fill="#b4d8f4"/>
<rect x="865.0" y="2439.3" width="196.0" height="22.8" fill="#e286a6"/>
<rect x="1061.0" y="2439.3" width="198.5" height="22.8" fill="#dca8b8"/>
<rect x="470.0" y="2461.7" width="196.0" height="22.8" fill="#4488c8"/>
<rect x="666.0" y="2461.7" width="199.0" height="22.8" fill="#dca8b8"/>
<rect x="865.0" y="2461.7" width="196.0" height="22.8" fill="#f49cb4"/>
<rect x="1061.0" y="2461.7" width="198.5" height="22.8" fill="#c4f0e0"/>
<rect x="470.0" y="2484.1" width="196.0" height="22.8" fill="#4488c8"/>
<rect x="666.0" y="2484.1" width="199.0" height="11.6" fill="#c4f0e0"/>
<rect x="666.0" y="2495.3" width="199.0" height="11.6" fill="#e4e4e4"/>
<rect x="865.0" y="2484.1" width="196.0" height="22.8" fill="#f49cb4"/>
<rect x="1061.0" y="2484.1" width="198.5" height="22.8" fill="#f49cb4"/>
<rect x="470.0" y="2506.5" width="196.0" height="22.8" fill="#b4d8f4"/>
<rect x="666.0" y="2506.5" width="199.0" height="22.8" fill="#b4d8f4"/>
<rect x="865.0" y="2506.5" width="196.0" height="22.8" fill="#b4d8f4"/>
<rect x="1061.0" y="2506.5" width="198.5" height="22.8" fill="#c5484c"/>
<rect x="470.0" y="2528.9" width="196.0" height="22.8" fill="#8cb0d0"/>
<rect x="666.0" y="2528.9" width="199.0" height="22.8" fill="#f8f8f8"/>
<rect x="865.0" y="2528.9" width="196.0" height="22.8" fill="#e4e4e4"/>
<rect x="1061.0" y="2528.9" width="198.5" height="22.8" fill="#c83c68"/>
<rect x="470.0" y="2551.3" width="196.0" height="22.8" fill="#c83c68"/>
<rect x="666.0" y="2551.3" width="199.0" height="22.8" fill="#f8f8f8"/>
<rect x="865.0" y="2551.3" width="196.0" height="11.6" fill="#b0e0d0"/>
<rect x="865.0" y="2562.5" width="196.0" height="11.6" fill="#b4d8f4"/>
<rect x="1061.0" y="2551.3" width="198.5" height="22.8" fill="#a0c4e0"/>
<rect x="470.0" y="2573.7" width="196.0" height="22.8" fill="#c83c68"/>
<rect x="666.0" y="2573.7" width="199.0" height="22.8" fill="#a0c4e0"/>
<rect x="865.0" y="2573.7" width="196.0" height="22.8" fill="#f8f8f8"/>
<rect x="1061.0" y="2573.7" width="198.5" height="22.8" fill="#a0c4e0"/>
<rect x="470.0" y="2596.1" width="196.0" height="22.8" fill="#c83c68"/>
<rect x="666.0" y="2596.1" width="199.0" height="22.8" fill="#8cb0d0"/>
<rect x="865.0" y="2596.1" width="196.0" height="22.8" fill="#f8f8f8"/>
<rect x="1061.0" y="2596.1" width="198.5" height="22.8" fill="#c4f0e0"/>
<rect x="470.0" y="2618.5" width="196.0" height="22.8" fill="#c83c68"/>
<rect x="666.0" y="2618.5" width="199.0" height="22.8" fill="#8cb0d0"/>
<rect x="865.0" y="2618.5" width="196.0" height="22.8" fill="#f8f8f8"/>
<rect x="1061.0" y="2618.5" width="198.5" height="22.8" fill="#c4f0e0"/>
<rect x="470.0" y="2640.9" width="196.0" height="22.8" fill="#d07090"/>
<rect x="666.0" y="2640.9" width="199.0" height="11.6" fill="#7c94e0"/>
<rect x="666.0" y="2652.1" width="199.0" height="11.6" fill="#5c9ce0"/>
<rect x="865.0" y="2640.9" width="196.0" height="22.8" fill="#c4f0e0"/>
<rect x="1061.0" y="2640.9" width="198.5" height="22.8" fill="#fdd4e0"/>
<rect x="470.0" y="2663.3" width="196.0" height="22.8" fill="#e286a6"/>
<rect x="666.0" y="2663.3" width="199.0" height="11.6" fill="#3878b8"/>
<rect x="666.0" y="2674.5" width="199.0" height="11.6" fill="#3070dc"/>
<rect x="865.0" y="2663.3" width="196.0" height="22.8" fill="#f8f8f8"/>
<rect x="1061.0" y="2663.3" width="198.5" height="11.6" fill="#fdd4e0"/>
<rect x="1061.0" y="2674.5" width="198.5" height="11.6" fill="#e4e4e4"/>
<rect x="470.0" y="2685.7" width="196.0" height="22.8" fill="#b8607e"/>
<rect x="666.0" y="2685.7" width="199.0" height="22.8" fill="#fdd4e0"/>
<rect x="865.0" y="2685.7" width="196.0" height="22.8" fill="#a0c4e0"/>
<rect x="1061.0" y="2685.7" width="198.5" height="22.8" fill="#8cb0d0"/>
</g>
<rect x="469.5" y="199.5" width="791" height="2508.5" fill="none" stroke="#000" stroke-width="3.4"/>
<line x1="446.0" y1="210.7" x2="469.0" y2="210.7" stroke="#000" stroke-width="3.2" stroke-linecap="butt"/>
<text x="428.5" y="217.3" font-size="21.5" text-anchor="end" font-style="italic">tet(D)</text>
<line x1="446.0" y1="233.1" x2="469.0" y2="233.1" stroke="#000" stroke-width="3.2" stroke-linecap="butt"/>
<text x="428.5" y="239.7" font-size="21.5" text-anchor="end" font-style="italic">tet(M)</text>
<line x1="446.0" y1="255.5" x2="469.0" y2="255.5" stroke="#000" stroke-width="3.2" stroke-linecap="butt"/>
<text x="428.5" y="262.1" font-size="21.5" text-anchor="end" font-style="italic">tet(B)</text>
<line x1="446.0" y1="277.9" x2="469.0" y2="277.9" stroke="#000" stroke-width="3.2" stroke-linecap="butt"/>
<text x="428.5" y="284.5" font-size="21.5" text-anchor="end" font-style="italic">tet(X4)</text>
<text x="1272.0" y="285.4" font-size="21.5" text-anchor="middle">†</text>
<line x1="446.0" y1="300.3" x2="469.0" y2="300.3" stroke="#000" stroke-width="3.2" stroke-linecap="butt"/>
<text x="428.5" y="306.9" font-size="21.5" text-anchor="end" font-style="italic">tet(A)</text>
<text x="1272.0" y="307.8" font-size="21.5" text-anchor="middle">†</text>
<line x1="446.0" y1="322.7" x2="469.0" y2="322.7" stroke="#000" stroke-width="3.2" stroke-linecap="butt"/>
<text x="428.5" y="329.3" font-size="21.5" text-anchor="end" font-style="italic">qnrB6</text>
<text x="1272.0" y="330.2" font-size="21.5" text-anchor="middle">†</text>
<line x1="446.0" y1="345.1" x2="469.0" y2="345.1" stroke="#000" stroke-width="3.2" stroke-linecap="butt"/>
<text x="428.5" y="351.7" font-size="21.5" text-anchor="end" font-style="italic">qnrS1</text>
<text x="1272.0" y="352.6" font-size="21.5" text-anchor="middle">†</text>
<line x1="446.0" y1="367.5" x2="469.0" y2="367.5" stroke="#000" stroke-width="3.2" stroke-linecap="butt"/>
<text x="428.5" y="374.1" font-size="21.5" text-anchor="end" font-style="italic">qnrVC1</text>
<text x="1272.0" y="375.0" font-size="21.5" text-anchor="middle">†</text>
<line x1="446.0" y1="389.9" x2="469.0" y2="389.9" stroke="#000" stroke-width="3.2" stroke-linecap="butt"/>
<text x="428.5" y="396.5" font-size="21.5" text-anchor="end" font-style="italic">qnrS3</text>
<line x1="446.0" y1="412.3" x2="469.0" y2="412.3" stroke="#000" stroke-width="3.2" stroke-linecap="butt"/>
<text x="428.5" y="418.9" font-size="21.5" text-anchor="end" font-style="italic">qnrS10</text>
<line x1="446.0" y1="434.7" x2="469.0" y2="434.7" stroke="#000" stroke-width="3.2" stroke-linecap="butt"/>
<text x="428.5" y="441.3" font-size="21.5" text-anchor="end" font-style="italic">qnrA7</text>
<text x="1272.0" y="442.2" font-size="21.5" text-anchor="middle">†</text>
<line x1="446.0" y1="457.1" x2="469.0" y2="457.1" stroke="#000" stroke-width="3.2" stroke-linecap="butt"/>
<text x="428.5" y="463.7" font-size="21.5" text-anchor="end" font-style="italic">qnrS13</text>
<text x="1272.0" y="464.6" font-size="21.5" text-anchor="middle">†</text>
<line x1="446.0" y1="479.5" x2="469.0" y2="479.5" stroke="#000" stroke-width="3.2" stroke-linecap="butt"/>
<text x="428.5" y="486.1" font-size="21.5" text-anchor="end" font-style="italic">qnrB19</text>
<text x="1272.0" y="487.0" font-size="21.5" text-anchor="middle">†</text>
<line x1="446.0" y1="501.9" x2="469.0" y2="501.9" stroke="#000" stroke-width="3.2" stroke-linecap="butt"/>
<text x="428.5" y="508.5" font-size="21.5" text-anchor="end" font-style="italic">qnrB4</text>
<line x1="446.0" y1="524.3" x2="469.0" y2="524.3" stroke="#000" stroke-width="3.2" stroke-linecap="butt"/>
<text x="428.5" y="530.9" font-size="21.5" text-anchor="end" font-style="italic">qnrA1</text>
<line x1="446.0" y1="546.7" x2="469.0" y2="546.7" stroke="#000" stroke-width="3.2" stroke-linecap="butt"/>
<text x="428.5" y="553.3" font-size="21.5" text-anchor="end" font-style="italic">qnrS2</text>
<line x1="446.0" y1="569.1" x2="469.0" y2="569.1" stroke="#000" stroke-width="3.2" stroke-linecap="butt"/>
<text x="428.5" y="575.7" font-size="21.5" text-anchor="end" font-style="italic">OqxB</text>
<line x1="446.0" y1="591.5" x2="469.0" y2="591.5" stroke="#000" stroke-width="3.2" stroke-linecap="butt"/>
<text x="428.5" y="598.1" font-size="21.5" text-anchor="end" font-style="italic">OqxA</text>
<line x1="446.0" y1="613.9" x2="469.0" y2="613.9" stroke="#000" stroke-width="3.2" stroke-linecap="butt"/>
<text x="428.5" y="620.5" font-size="21.5" text-anchor="end" font-style="italic">aac(6')-Ib-cr</text>
<text x="1272.0" y="621.4" font-size="21.5" text-anchor="middle">†</text>
<line x1="446.0" y1="636.3" x2="469.0" y2="636.3" stroke="#000" stroke-width="3.2" stroke-linecap="butt"/>
<text x="428.5" y="642.9" font-size="21.5" text-anchor="end" font-style="italic">mcr-9</text>
<text x="1272.0" y="643.8" font-size="21.5" text-anchor="middle">†</text>
<line x1="446.0" y1="658.7" x2="469.0" y2="658.7" stroke="#000" stroke-width="3.2" stroke-linecap="butt"/>
<text x="428.5" y="665.3" font-size="21.5" text-anchor="end" font-style="italic">mcr-1.8</text>
<line x1="446.0" y1="681.1" x2="469.0" y2="681.1" stroke="#000" stroke-width="3.2" stroke-linecap="butt"/>
<text x="428.5" y="687.7" font-size="21.5" text-anchor="end" font-style="italic">mcr-1.27</text>
<line x1="446.0" y1="703.5" x2="469.0" y2="703.5" stroke="#000" stroke-width="3.2" stroke-linecap="butt"/>
<text x="428.5" y="710.1" font-size="21.5" text-anchor="end" font-style="italic">mcr-1.26</text>
<line x1="446.0" y1="725.9" x2="469.0" y2="725.9" stroke="#000" stroke-width="3.2" stroke-linecap="butt"/>
<text x="428.5" y="732.5" font-size="21.5" text-anchor="end" font-style="italic">mcr-1.2</text>
<line x1="446.0" y1="748.3" x2="469.0" y2="748.3" stroke="#000" stroke-width="3.2" stroke-linecap="butt"/>
<text x="428.5" y="754.9" font-size="21.5" text-anchor="end" font-style="italic">mcr-1.12</text>
<line x1="446.0" y1="770.7" x2="469.0" y2="770.7" stroke="#000" stroke-width="3.2" stroke-linecap="butt"/>
<text x="428.5" y="777.3" font-size="21.5" text-anchor="end" font-style="italic">mcr-1.11</text>
<line x1="446.0" y1="793.1" x2="469.0" y2="793.1" stroke="#000" stroke-width="3.2" stroke-linecap="butt"/>
<text x="428.5" y="799.7" font-size="21.5" text-anchor="end" font-style="italic">mcr-1.1</text>
<line x1="446.0" y1="815.5" x2="469.0" y2="815.5" stroke="#000" stroke-width="3.2" stroke-linecap="butt"/>
<text x="428.5" y="822.1" font-size="21.5" text-anchor="end" font-style="italic">lnu(G)</text>
<text x="1272.0" y="823.0" font-size="21.5" text-anchor="middle">†</text>
<line x1="446.0" y1="837.9" x2="469.0" y2="837.9" stroke="#000" stroke-width="3.2" stroke-linecap="butt"/>
<text x="428.5" y="844.5" font-size="21.5" text-anchor="end" font-style="italic">lnu(F)</text>
<text x="1272.0" y="845.4" font-size="21.5" text-anchor="middle">†</text>
<line x1="446.0" y1="860.3" x2="469.0" y2="860.3" stroke="#000" stroke-width="3.2" stroke-linecap="butt"/>
<text x="428.5" y="866.9" font-size="21.5" text-anchor="end" font-style="italic">fosA3</text>
<line x1="446.0" y1="882.7" x2="469.0" y2="882.7" stroke="#000" stroke-width="3.2" stroke-linecap="butt"/>
<text x="428.5" y="889.3" font-size="21.5" text-anchor="end" font-style="italic">erm(B)</text>
<text x="1272.0" y="890.2" font-size="21.5" text-anchor="middle">†</text>
<line x1="446.0" y1="905.1" x2="469.0" y2="905.1" stroke="#000" stroke-width="3.2" stroke-linecap="butt"/>
<text x="428.5" y="911.7" font-size="21.5" text-anchor="end" font-style="italic">mph(A)</text>
<text x="1272.0" y="912.6" font-size="21.5" text-anchor="middle">†</text>
<line x1="446.0" y1="927.5" x2="469.0" y2="927.5" stroke="#000" stroke-width="3.2" stroke-linecap="butt"/>
<text x="428.5" y="934.1" font-size="21.5" text-anchor="end" font-style="italic">mef(B)</text>
<text x="1272.0" y="935.0" font-size="21.5" text-anchor="middle">†</text>
<line x1="446.0" y1="949.9" x2="469.0" y2="949.9" stroke="#000" stroke-width="3.2" stroke-linecap="butt"/>
<text x="428.5" y="956.5" font-size="21.5" text-anchor="end" font-style="italic">erm(C)</text>
<text x="1272.0" y="957.4" font-size="21.5" text-anchor="middle">†</text>
<line x1="446.0" y1="972.3" x2="469.0" y2="972.3" stroke="#000" stroke-width="3.2" stroke-linecap="butt"/>
<text x="428.5" y="978.9" font-size="21.5" text-anchor="end" font-style="italic">erm(42)</text>
<text x="1272.0" y="979.8" font-size="21.5" text-anchor="middle">†</text>
<line x1="446.0" y1="994.7" x2="469.0" y2="994.7" stroke="#000" stroke-width="3.2" stroke-linecap="butt"/>
<text x="428.5" y="1001.3" font-size="21.5" text-anchor="end" font-style="italic">dfrA17</text>
<line x1="446.0" y1="1017.1" x2="469.0" y2="1017.1" stroke="#000" stroke-width="3.2" stroke-linecap="butt"/>
<text x="428.5" y="1023.7" font-size="21.5" text-anchor="end" font-style="italic">sul3</text>
<line x1="446.0" y1="1039.5" x2="469.0" y2="1039.5" stroke="#000" stroke-width="3.2" stroke-linecap="butt"/>
<text x="428.5" y="1046.1" font-size="21.5" text-anchor="end" font-style="italic">dfrA12</text>
<line x1="446.0" y1="1061.9" x2="469.0" y2="1061.9" stroke="#000" stroke-width="3.2" stroke-linecap="butt"/>
<text x="428.5" y="1068.5" font-size="21.5" text-anchor="end" font-style="italic">sul2</text>
<line x1="446.0" y1="1084.3" x2="469.0" y2="1084.3" stroke="#000" stroke-width="3.2" stroke-linecap="butt"/>
<text x="428.5" y="1090.9" font-size="21.5" text-anchor="end" font-style="italic">sul1</text>
<text x="1272.0" y="1091.8" font-size="21.5" text-anchor="middle">†</text>
<line x1="446.0" y1="1106.7" x2="469.0" y2="1106.7" stroke="#000" stroke-width="3.2" stroke-linecap="butt"/>
<text x="428.5" y="1113.3" font-size="21.5" text-anchor="end" font-style="italic">dfrA19</text>
<line x1="446.0" y1="1129.1" x2="469.0" y2="1129.1" stroke="#000" stroke-width="3.2" stroke-linecap="butt"/>
<text x="428.5" y="1135.7" font-size="21.5" text-anchor="end" font-style="italic">dfrA15</text>
<text x="1272.0" y="1136.6" font-size="21.5" text-anchor="middle">†</text>
<line x1="446.0" y1="1151.5" x2="469.0" y2="1151.5" stroke="#000" stroke-width="3.2" stroke-linecap="butt"/>
<text x="428.5" y="1158.1" font-size="21.5" text-anchor="end" font-style="italic">dfrA14</text>
<text x="1272.0" y="1159.0" font-size="21.5" text-anchor="middle">†</text>
<line x1="446.0" y1="1173.9" x2="469.0" y2="1173.9" stroke="#000" stroke-width="3.2" stroke-linecap="butt"/>
<text x="428.5" y="1180.5" font-size="21.5" text-anchor="end" font-style="italic">dfrA27</text>
<text x="1272.0" y="1181.4" font-size="21.5" text-anchor="middle">†</text>
<line x1="446.0" y1="1196.3" x2="469.0" y2="1196.3" stroke="#000" stroke-width="3.2" stroke-linecap="butt"/>
<text x="428.5" y="1202.9" font-size="21.5" text-anchor="end" font-style="italic">dfrA1</text>
<text x="1272.0" y="1203.8" font-size="21.5" text-anchor="middle">†</text>
<line x1="446.0" y1="1218.7" x2="469.0" y2="1218.7" stroke="#000" stroke-width="3.2" stroke-linecap="butt"/>
<text x="428.5" y="1225.3" font-size="21.5" text-anchor="end" font-style="italic">catB3</text>
<line x1="446.0" y1="1241.1" x2="469.0" y2="1241.1" stroke="#000" stroke-width="3.2" stroke-linecap="butt"/>
<text x="428.5" y="1247.7" font-size="21.5" text-anchor="end" font-style="italic">cmlA1</text>
<text x="1272.0" y="1248.6" font-size="21.5" text-anchor="middle">†</text>
<line x1="446.0" y1="1263.5" x2="469.0" y2="1263.5" stroke="#000" stroke-width="3.2" stroke-linecap="butt"/>
<text x="428.5" y="1270.1" font-size="21.5" text-anchor="end" font-style="italic">cml</text>
<text x="1272.0" y="1271.0" font-size="21.5" text-anchor="middle">†</text>
<line x1="446.0" y1="1285.9" x2="469.0" y2="1285.9" stroke="#000" stroke-width="3.2" stroke-linecap="butt"/>
<text x="428.5" y="1292.5" font-size="21.5" text-anchor="end" font-style="italic">catA2</text>
<text x="1272.0" y="1293.4" font-size="21.5" text-anchor="middle">†</text>
<line x1="446.0" y1="1308.3" x2="469.0" y2="1308.3" stroke="#000" stroke-width="3.2" stroke-linecap="butt"/>
<text x="428.5" y="1314.9" font-size="21.5" text-anchor="end" font-style="italic">floR</text>
<text x="1272.0" y="1315.8" font-size="21.5" text-anchor="middle">†</text>
<line x1="446.0" y1="1330.7" x2="469.0" y2="1330.7" stroke="#000" stroke-width="3.2" stroke-linecap="butt"/>
<text x="428.5" y="1337.3" font-size="21.5" text-anchor="end" font-style="italic">blaTEM-40</text>
<line x1="446.0" y1="1353.1" x2="469.0" y2="1353.1" stroke="#000" stroke-width="3.2" stroke-linecap="butt"/>
<text x="428.5" y="1359.7" font-size="21.5" text-anchor="end" font-style="italic">blaTEM-32</text>
<line x1="446.0" y1="1375.5" x2="469.0" y2="1375.5" stroke="#000" stroke-width="3.2" stroke-linecap="butt"/>
<text x="428.5" y="1382.1" font-size="21.5" text-anchor="end" font-style="italic">blaTEM-30</text>
<text x="1272.0" y="1383.0" font-size="21.5" text-anchor="middle">†</text>
<line x1="446.0" y1="1397.9" x2="469.0" y2="1397.9" stroke="#000" stroke-width="3.2" stroke-linecap="butt"/>
<text x="428.5" y="1404.5" font-size="21.5" text-anchor="end" font-style="italic">blaTEM-214</text>
<text x="1272.0" y="1405.4" font-size="21.5" text-anchor="middle">†</text>
<line x1="446.0" y1="1420.3" x2="469.0" y2="1420.3" stroke="#000" stroke-width="3.2" stroke-linecap="butt"/>
<text x="428.5" y="1426.9" font-size="21.5" text-anchor="end" font-style="italic">blaTEM-206</text>
<text x="1272.0" y="1427.8" font-size="21.5" text-anchor="middle">†</text>
<line x1="446.0" y1="1442.7" x2="469.0" y2="1442.7" stroke="#000" stroke-width="3.2" stroke-linecap="butt"/>
<text x="428.5" y="1449.3" font-size="21.5" text-anchor="end" font-style="italic">blaTEM-20</text>
<line x1="446.0" y1="1465.1" x2="469.0" y2="1465.1" stroke="#000" stroke-width="3.2" stroke-linecap="butt"/>
<text x="428.5" y="1471.7" font-size="21.5" text-anchor="end" font-style="italic">blaTEM-1C</text>
<line x1="446.0" y1="1487.5" x2="469.0" y2="1487.5" stroke="#000" stroke-width="3.2" stroke-linecap="butt"/>
<text x="428.5" y="1494.1" font-size="21.5" text-anchor="end" font-style="italic">blaTEM-1B</text>
<text x="1272.0" y="1495.0" font-size="21.5" text-anchor="middle">†</text>
<line x1="446.0" y1="1509.9" x2="469.0" y2="1509.9" stroke="#000" stroke-width="3.2" stroke-linecap="butt"/>
<text x="428.5" y="1516.5" font-size="21.5" text-anchor="end" font-style="italic">blaTEM-135</text>
<text x="1272.0" y="1517.4" font-size="21.5" text-anchor="middle">†</text>
<line x1="446.0" y1="1532.3" x2="469.0" y2="1532.3" stroke="#000" stroke-width="3.2" stroke-linecap="butt"/>
<text x="428.5" y="1538.9" font-size="21.5" text-anchor="end" font-style="italic">blaTEM-128</text>
<text x="1272.0" y="1539.8" font-size="21.5" text-anchor="middle">†</text>
<line x1="446.0" y1="1554.7" x2="469.0" y2="1554.7" stroke="#000" stroke-width="3.2" stroke-linecap="butt"/>
<text x="428.5" y="1561.3" font-size="21.5" text-anchor="end" font-style="italic">blaTEM-116</text>
<line x1="446.0" y1="1577.1" x2="469.0" y2="1577.1" stroke="#000" stroke-width="3.2" stroke-linecap="butt"/>
<text x="428.5" y="1583.7" font-size="21.5" text-anchor="end" font-style="italic">blaOXA-10</text>
<text x="1272.0" y="1584.6" font-size="21.5" text-anchor="middle">†</text>
<line x1="446.0" y1="1599.5" x2="469.0" y2="1599.5" stroke="#000" stroke-width="3.2" stroke-linecap="butt"/>
<text x="428.5" y="1606.1" font-size="21.5" text-anchor="end" font-style="italic">blaOXA-1</text>
<text x="1272.0" y="1607.0" font-size="21.5" text-anchor="middle">†</text>
<line x1="446.0" y1="1621.9" x2="469.0" y2="1621.9" stroke="#000" stroke-width="3.2" stroke-linecap="butt"/>
<text x="428.5" y="1628.5" font-size="21.5" text-anchor="end" font-style="italic">blaLAP-2</text>
<text x="1272.0" y="1629.4" font-size="21.5" text-anchor="middle">†</text>
<line x1="446.0" y1="1644.3" x2="469.0" y2="1644.3" stroke="#000" stroke-width="3.2" stroke-linecap="butt"/>
<text x="428.5" y="1650.9" font-size="21.5" text-anchor="end" font-style="italic">blaCTX-M-64</text>
<line x1="446.0" y1="1666.7" x2="469.0" y2="1666.7" stroke="#000" stroke-width="3.2" stroke-linecap="butt"/>
<text x="428.5" y="1673.3" font-size="21.5" text-anchor="end" font-style="italic">blaCTX-M-27</text>
<text x="1272.0" y="1674.2" font-size="21.5" text-anchor="middle">†</text>
<line x1="446.0" y1="1689.1" x2="469.0" y2="1689.1" stroke="#000" stroke-width="3.2" stroke-linecap="butt"/>
<text x="428.5" y="1695.7" font-size="21.5" text-anchor="end" font-style="italic">blaCTX-M-24</text>
<text x="1272.0" y="1696.6" font-size="21.5" text-anchor="middle">†</text>
<line x1="446.0" y1="1711.5" x2="469.0" y2="1711.5" stroke="#000" stroke-width="3.2" stroke-linecap="butt"/>
<text x="428.5" y="1718.1" font-size="21.5" text-anchor="end" font-style="italic">blaCTX-M-196</text>
<text x="1272.0" y="1719.0" font-size="21.5" text-anchor="middle">†</text>
<line x1="446.0" y1="1733.9" x2="469.0" y2="1733.9" stroke="#000" stroke-width="3.2" stroke-linecap="butt"/>
<text x="428.5" y="1740.5" font-size="21.5" text-anchor="end" font-style="italic">blaCTX-M-15</text>
<text x="1272.0" y="1741.4" font-size="21.5" text-anchor="middle">†</text>
<line x1="446.0" y1="1756.3" x2="469.0" y2="1756.3" stroke="#000" stroke-width="3.2" stroke-linecap="butt"/>
<text x="428.5" y="1762.9" font-size="21.5" text-anchor="end" font-style="italic">blaCTX-M-130</text>
<text x="1272.0" y="1763.8" font-size="21.5" text-anchor="middle">†</text>
<line x1="446.0" y1="1778.7" x2="469.0" y2="1778.7" stroke="#000" stroke-width="3.2" stroke-linecap="butt"/>
<text x="428.5" y="1785.3" font-size="21.5" text-anchor="end" font-style="italic">blaNDM-1</text>
<line x1="446.0" y1="1801.1" x2="469.0" y2="1801.1" stroke="#000" stroke-width="3.2" stroke-linecap="butt"/>
<text x="428.5" y="1807.7" font-size="21.5" text-anchor="end" font-style="italic">blaDHA-1</text>
<line x1="446.0" y1="1823.5" x2="469.0" y2="1823.5" stroke="#000" stroke-width="3.2" stroke-linecap="butt"/>
<text x="428.5" y="1830.1" font-size="21.5" text-anchor="end" font-style="italic">blaCTX-M-55</text>
<line x1="446.0" y1="1845.9" x2="469.0" y2="1845.9" stroke="#000" stroke-width="3.2" stroke-linecap="butt"/>
<text x="428.5" y="1852.5" font-size="21.5" text-anchor="end" font-style="italic">blaCTX-M-14</text>
<line x1="446.0" y1="1868.3" x2="469.0" y2="1868.3" stroke="#000" stroke-width="3.2" stroke-linecap="butt"/>
<text x="428.5" y="1874.9" font-size="21.5" text-anchor="end" font-style="italic">blaTEM-220</text>
<text x="1272.0" y="1875.8" font-size="21.5" text-anchor="middle">†</text>
<line x1="446.0" y1="1890.7" x2="469.0" y2="1890.7" stroke="#000" stroke-width="3.2" stroke-linecap="butt"/>
<text x="428.5" y="1897.3" font-size="21.5" text-anchor="end" font-style="italic">blaTEM-33</text>
<text x="1272.0" y="1898.2" font-size="21.5" text-anchor="middle">†</text>
<line x1="446.0" y1="1913.1" x2="469.0" y2="1913.1" stroke="#000" stroke-width="3.2" stroke-linecap="butt"/>
<text x="428.5" y="1919.7" font-size="21.5" text-anchor="end" font-style="italic">blaTEM-169</text>
<text x="1272.0" y="1920.6" font-size="21.5" text-anchor="middle">†</text>
<line x1="446.0" y1="1935.5" x2="469.0" y2="1935.5" stroke="#000" stroke-width="3.2" stroke-linecap="butt"/>
<text x="428.5" y="1942.1" font-size="21.5" text-anchor="end" font-style="italic">blaTEM-126</text>
<text x="1272.0" y="1943.0" font-size="21.5" text-anchor="middle">†</text>
<line x1="446.0" y1="1957.9" x2="469.0" y2="1957.9" stroke="#000" stroke-width="3.2" stroke-linecap="butt"/>
<text x="428.5" y="1964.5" font-size="21.5" text-anchor="end" font-style="italic">blaTEM-106</text>
<text x="1272.0" y="1965.4" font-size="21.5" text-anchor="middle">†</text>
<line x1="446.0" y1="1980.3" x2="469.0" y2="1980.3" stroke="#000" stroke-width="3.2" stroke-linecap="butt"/>
<text x="428.5" y="1986.9" font-size="21.5" text-anchor="end" font-style="italic">blaOXA-16</text>
<text x="1272.0" y="1987.8" font-size="21.5" text-anchor="middle">†</text>
<line x1="446.0" y1="2002.7" x2="469.0" y2="2002.7" stroke="#000" stroke-width="3.2" stroke-linecap="butt"/>
<text x="428.5" y="2009.3" font-size="21.5" text-anchor="end" font-style="italic">blaNDM-5</text>
<text x="1272.0" y="2010.2" font-size="21.5" text-anchor="middle">†</text>
<line x1="446.0" y1="2025.1" x2="469.0" y2="2025.1" stroke="#000" stroke-width="3.2" stroke-linecap="butt"/>
<text x="428.5" y="2031.7" font-size="21.5" text-anchor="end" font-style="italic">blaCTX-M-99</text>
<text x="1272.0" y="2032.6" font-size="21.5" text-anchor="middle">†</text>
<line x1="446.0" y1="2047.5" x2="469.0" y2="2047.5" stroke="#000" stroke-width="3.2" stroke-linecap="butt"/>
<text x="428.5" y="2054.1" font-size="21.5" text-anchor="end" font-style="italic">blaCTX-M-65</text>
<text x="1272.0" y="2055.0" font-size="21.5" text-anchor="middle">†</text>
<line x1="446.0" y1="2069.9" x2="469.0" y2="2069.9" stroke="#000" stroke-width="3.2" stroke-linecap="butt"/>
<text x="428.5" y="2076.5" font-size="21.5" text-anchor="end" font-style="italic">blaCTX-M-3</text>
<text x="1272.0" y="2077.4" font-size="21.5" text-anchor="middle">†</text>
<line x1="446.0" y1="2092.3" x2="469.0" y2="2092.3" stroke="#000" stroke-width="3.2" stroke-linecap="butt"/>
<text x="428.5" y="2098.9" font-size="21.5" text-anchor="end" font-style="italic">blaCTX-M-125</text>
<text x="1272.0" y="2099.8" font-size="21.5" text-anchor="middle">†</text>
<line x1="446.0" y1="2114.7" x2="469.0" y2="2114.7" stroke="#000" stroke-width="3.2" stroke-linecap="butt"/>
<text x="428.5" y="2121.3" font-size="21.5" text-anchor="end" font-style="italic">blaCTX-M-122</text>
<text x="1272.0" y="2122.2" font-size="21.5" text-anchor="middle">†</text>
<line x1="446.0" y1="2137.1" x2="469.0" y2="2137.1" stroke="#000" stroke-width="3.2" stroke-linecap="butt"/>
<text x="428.5" y="2143.7" font-size="21.5" text-anchor="end" font-style="italic">blaCMY-2</text>
<text x="1272.0" y="2144.6" font-size="21.5" text-anchor="middle">†</text>
<line x1="446.0" y1="2159.5" x2="469.0" y2="2159.5" stroke="#000" stroke-width="3.2" stroke-linecap="butt"/>
<text x="428.5" y="2166.1" font-size="21.5" text-anchor="end" font-style="italic">ARR-3</text>
<text x="1272.0" y="2167.0" font-size="21.5" text-anchor="middle">†</text>
<line x1="446.0" y1="2181.9" x2="469.0" y2="2181.9" stroke="#000" stroke-width="3.2" stroke-linecap="butt"/>
<text x="428.5" y="2188.5" font-size="21.5" text-anchor="end" font-style="italic">ARR-2</text>
<text x="1272.0" y="2189.4" font-size="21.5" text-anchor="middle">†</text>
<line x1="446.0" y1="2204.3" x2="469.0" y2="2204.3" stroke="#000" stroke-width="3.2" stroke-linecap="butt"/>
<text x="428.5" y="2210.9" font-size="21.5" text-anchor="end" font-style="italic">aac(3)-VIa</text>
<text x="1272.0" y="2211.8" font-size="21.5" text-anchor="middle">†</text>
<line x1="446.0" y1="2226.7" x2="469.0" y2="2226.7" stroke="#000" stroke-width="3.2" stroke-linecap="butt"/>
<text x="428.5" y="2233.3" font-size="21.5" text-anchor="end" font-style="italic">aac(3)-IV</text>
<text x="1272.0" y="2234.2" font-size="21.5" text-anchor="middle">†</text>
<line x1="446.0" y1="2249.1" x2="469.0" y2="2249.1" stroke="#000" stroke-width="3.2" stroke-linecap="butt"/>
<text x="428.5" y="2255.7" font-size="21.5" text-anchor="end" font-style="italic">aac(3)-IId</text>
<text x="1272.0" y="2256.6" font-size="21.5" text-anchor="middle">†</text>
<line x1="446.0" y1="2271.5" x2="469.0" y2="2271.5" stroke="#000" stroke-width="3.2" stroke-linecap="butt"/>
<text x="428.5" y="2278.1" font-size="21.5" text-anchor="end" font-style="italic">ant(2'')-Ia</text>
<line x1="446.0" y1="2293.9" x2="469.0" y2="2293.9" stroke="#000" stroke-width="3.2" stroke-linecap="butt"/>
<text x="428.5" y="2300.5" font-size="21.5" text-anchor="end" font-style="italic">aadA5</text>
<text x="1272.0" y="2301.4" font-size="21.5" text-anchor="middle">†</text>
<line x1="446.0" y1="2316.3" x2="469.0" y2="2316.3" stroke="#000" stroke-width="3.2" stroke-linecap="butt"/>
<text x="428.5" y="2322.9" font-size="21.5" text-anchor="end" font-style="italic">aph(4)-Ia</text>
<text x="1272.0" y="2323.8" font-size="21.5" text-anchor="middle">†</text>
<line x1="446.0" y1="2338.7" x2="469.0" y2="2338.7" stroke="#000" stroke-width="3.2" stroke-linecap="butt"/>
<text x="428.5" y="2345.3" font-size="21.5" text-anchor="end" font-style="italic">aph(3')-IIa</text>
<text x="1272.0" y="2346.2" font-size="21.5" text-anchor="middle">†</text>
<line x1="446.0" y1="2361.1" x2="469.0" y2="2361.1" stroke="#000" stroke-width="3.2" stroke-linecap="butt"/>
<text x="428.5" y="2367.7" font-size="21.5" text-anchor="end" font-style="italic">rmtB</text>
<text x="1272.0" y="2368.6" font-size="21.5" text-anchor="middle">†</text>
<line x1="446.0" y1="2383.5" x2="469.0" y2="2383.5" stroke="#000" stroke-width="3.2" stroke-linecap="butt"/>
<text x="428.5" y="2390.1" font-size="21.5" text-anchor="end" font-style="italic">aph(3')-Ia</text>
<text x="1272.0" y="2391.0" font-size="21.5" text-anchor="middle">†</text>
<line x1="446.0" y1="2405.9" x2="469.0" y2="2405.9" stroke="#000" stroke-width="3.2" stroke-linecap="butt"/>
<text x="428.5" y="2412.5" font-size="21.5" text-anchor="end" font-style="italic">aadA3</text>
<text x="1272.0" y="2413.4" font-size="21.5" text-anchor="middle">†</text>
<line x1="446.0" y1="2428.3" x2="469.0" y2="2428.3" stroke="#000" stroke-width="3.2" stroke-linecap="butt"/>
<text x="428.5" y="2434.9" font-size="21.5" text-anchor="end" font-style="italic">aadA24</text>
<text x="1272.0" y="2435.8" font-size="21.5" text-anchor="middle">†</text>
<line x1="446.0" y1="2450.7" x2="469.0" y2="2450.7" stroke="#000" stroke-width="3.2" stroke-linecap="butt"/>
<text x="428.5" y="2457.3" font-size="21.5" text-anchor="end" font-style="italic">aadA22</text>
<text x="1272.0" y="2458.2" font-size="21.5" text-anchor="middle">†</text>
<line x1="446.0" y1="2473.1" x2="469.0" y2="2473.1" stroke="#000" stroke-width="3.2" stroke-linecap="butt"/>
<text x="428.5" y="2479.7" font-size="21.5" text-anchor="end" font-style="italic">aadA17</text>
<text x="1272.0" y="2480.6" font-size="21.5" text-anchor="middle">†</text>
<line x1="446.0" y1="2495.5" x2="469.0" y2="2495.5" stroke="#000" stroke-width="3.2" stroke-linecap="butt"/>
<text x="428.5" y="2502.1" font-size="21.5" text-anchor="end" font-style="italic">aadA16</text>
<text x="1272.0" y="2503.0" font-size="21.5" text-anchor="middle">†</text>
<line x1="446.0" y1="2517.9" x2="469.0" y2="2517.9" stroke="#000" stroke-width="3.2" stroke-linecap="butt"/>
<text x="428.5" y="2524.5" font-size="21.5" text-anchor="end" font-style="italic">aadA12</text>
<text x="1272.0" y="2525.4" font-size="21.5" text-anchor="middle">†</text>
<line x1="446.0" y1="2540.3" x2="469.0" y2="2540.3" stroke="#000" stroke-width="3.2" stroke-linecap="butt"/>
<text x="428.5" y="2546.9" font-size="21.5" text-anchor="end" font-style="italic">aadA1</text>
<text x="1272.0" y="2547.8" font-size="21.5" text-anchor="middle">†</text>
<line x1="446.0" y1="2562.7" x2="469.0" y2="2562.7" stroke="#000" stroke-width="3.2" stroke-linecap="butt"/>
<text x="428.5" y="2569.3" font-size="21.5" text-anchor="end" font-style="italic">aac(6')-Ib3</text>
<line x1="446.0" y1="2585.1" x2="469.0" y2="2585.1" stroke="#000" stroke-width="3.2" stroke-linecap="butt"/>
<text x="428.5" y="2591.7" font-size="21.5" text-anchor="end" font-style="italic">aac(6')-IIc</text>
<line x1="446.0" y1="2607.5" x2="469.0" y2="2607.5" stroke="#000" stroke-width="3.2" stroke-linecap="butt"/>
<text x="428.5" y="2614.1" font-size="21.5" text-anchor="end" font-style="italic">aph(6)-Id</text>
<line x1="446.0" y1="2629.9" x2="469.0" y2="2629.9" stroke="#000" stroke-width="3.2" stroke-linecap="butt"/>
<text x="428.5" y="2636.5" font-size="21.5" text-anchor="end" font-style="italic">aph(3'')-Ib</text>
<line x1="446.0" y1="2652.3" x2="469.0" y2="2652.3" stroke="#000" stroke-width="3.2" stroke-linecap="butt"/>
<text x="428.5" y="2658.9" font-size="21.5" text-anchor="end" font-style="italic">aadA2b</text>
<line x1="446.0" y1="2674.7" x2="469.0" y2="2674.7" stroke="#000" stroke-width="3.2" stroke-linecap="butt"/>
<text x="428.5" y="2681.3" font-size="21.5" text-anchor="end" font-style="italic">aadA2</text>
<line x1="446.0" y1="2697.1" x2="469.0" y2="2697.1" stroke="#000" stroke-width="3.2" stroke-linecap="butt"/>
<text x="428.5" y="2703.7" font-size="21.5" text-anchor="end" font-style="italic">bleO</text>
<line x1="12.0" y1="199.5" x2="469.0" y2="199.5" stroke="#000" stroke-width="3" stroke-linecap="butt"/>
<line x1="14.0" y1="310.8" x2="469.0" y2="310.8" stroke="#000" stroke-width="3" stroke-linecap="butt"/>
<line x1="8.0" y1="626.0" x2="469.0" y2="626.0" stroke="#000" stroke-width="3" stroke-linecap="butt"/>
<line x1="9.5" y1="802.6" x2="469.0" y2="802.6" stroke="#000" stroke-width="3" stroke-linecap="butt"/>
<line x1="9.0" y1="846.3" x2="469.0" y2="846.3" stroke="#000" stroke-width="3" stroke-linecap="butt"/>
<line x1="9.5" y1="870.7" x2="469.0" y2="870.7" stroke="#000" stroke-width="3" stroke-linecap="butt"/>
<line x1="9.5" y1="981.0" x2="469.0" y2="981.0" stroke="#000" stroke-width="3" stroke-linecap="butt"/>
<line x1="13.0" y1="1206.3" x2="469.0" y2="1206.3" stroke="#000" stroke-width="3" stroke-linecap="butt"/>
<line x1="14.0" y1="1318.2" x2="469.0" y2="1318.2" stroke="#000" stroke-width="3" stroke-linecap="butt"/>
<line x1="9.5" y1="2145.3" x2="469.0" y2="2145.3" stroke="#000" stroke-width="3" stroke-linecap="butt"/>
<line x1="9.5" y1="2191.0" x2="469.0" y2="2191.0" stroke="#000" stroke-width="3" stroke-linecap="butt"/>
<line x1="8.0" y1="2707.8" x2="469.0" y2="2707.8" stroke="#000" stroke-width="3" stroke-linecap="butt"/>
<text x="55.0" y="263.0" font-size="27.2" text-anchor="start">Tetracyclines</text>
<text x="60.0" y="470.0" font-size="27.2" text-anchor="start">Quinolones</text>
<text x="64.0" y="698.5" font-size="27.2" text-anchor="start">Polymyxins</text>
<text x="57.0" y="834.0" font-size="27.2" text-anchor="start">Lincosamides</text>
<text x="49.0" y="867.5" font-size="27.2" text-anchor="start">Phosphomycins</text>
<text x="62.0" y="931.5" font-size="27.2" text-anchor="start">Macrolides*</text>
<text x="4.5" y="1102.0" font-size="27.2" text-anchor="start">Folate Pathway Inhibitors</text>
<text x="32.0" y="1273.5" font-size="27.2" text-anchor="start">Chloramphenicol</text>
<text x="67.0" y="1739.5" font-size="27.2"><tspan font-style="italic">β</tspan>-Lactams*</text>
<text x="80.0" y="2179.0" font-size="27.2" text-anchor="start">Rifampicin</text>
<text x="53.0" y="2445.0" font-size="27.2" text-anchor="start">Aminoglycosides*</text>
<line x1="568.0" y1="2708.0" x2="568.0" y2="2730.0" stroke="#000" stroke-width="3" stroke-linecap="butt"/>
<text x="568.0" y="2779.0" font-size="49" text-anchor="middle">2020</text>
<line x1="765.5" y1="2708.0" x2="765.5" y2="2730.0" stroke="#000" stroke-width="3" stroke-linecap="butt"/>
<text x="765.5" y="2779.0" font-size="49" text-anchor="middle">2021</text>
<line x1="963.0" y1="2708.0" x2="963.0" y2="2730.0" stroke="#000" stroke-width="3" stroke-linecap="butt"/>
<text x="963.0" y="2779.0" font-size="49" text-anchor="middle">2022</text>
<line x1="1160.2" y1="2708.0" x2="1160.2" y2="2730.0" stroke="#000" stroke-width="3" stroke-linecap="butt"/>
<text x="1160.2" y="2779.0" font-size="49" text-anchor="middle">2023</text>
<text x="-1.0" y="144.0" font-size="68" text-anchor="start">A</text>
<g shape-rendering="crispEdges">
<rect x="1308.0" y="2007.3" width="84.0" height="26.5" fill="#c5484c"/>
<rect x="1308.0" y="2033.4" width="84.0" height="14.7" fill="#c83c68"/>
<rect x="1308.0" y="2047.6" width="84.0" height="14.7" fill="#dc507c"/>
<rect x="1308.0" y="2061.8" width="84.0" height="17.1" fill="#b8607e"/>
<rect x="1308.0" y="2078.3" width="84.0" height="43.1" fill="#d07090"/>
<rect x="1308.0" y="2120.9" width="84.0" height="31.3" fill="#e286a6"/>
<rect x="1308.0" y="2151.7" width="84.0" height="10.0" fill="#f49cb4"/>
<rect x="1308.0" y="2161.1" width="84.0" height="39.3" fill="#dca8b8"/>
<rect x="1308.0" y="2199.9" width="84.0" height="48.3" fill="#ecbccc"/>
<rect x="1308.0" y="2247.7" width="84.0" height="39.3" fill="#fdd4e0"/>
<rect x="1308.0" y="2286.5" width="84.0" height="25.1" fill="#e4e4e4"/>
<rect x="1308.0" y="2311.2" width="84.0" height="98.0" fill="#f8f8f8"/>
<rect x="1308.0" y="2408.7" width="84.0" height="23.7" fill="#e4e4e4"/>
<rect x="1308.0" y="2431.8" width="84.0" height="41.2" fill="#c4f0e0"/>
<rect x="1308.0" y="2472.5" width="84.0" height="8.5" fill="#b0e0d0"/>
<rect x="1308.0" y="2480.6" width="84.0" height="39.8" fill="#b4d8f4"/>
<rect x="1308.0" y="2519.9" width="84.0" height="47.8" fill="#a0c4e0"/>
<rect x="1308.0" y="2567.2" width="84.0" height="41.7" fill="#8cb0d0"/>
<rect x="1308.0" y="2608.4" width="84.0" height="8.5" fill="#7c94e0"/>
<rect x="1308.0" y="2616.4" width="84.0" height="24.2" fill="#5c9ce0"/>
<rect x="1308.0" y="2640.1" width="84.0" height="47.8" fill="#4488c8"/>
<rect x="1308.0" y="2687.4" width="84.0" height="20.9" fill="#3070dc"/>
</g>
<rect x="1308.0" y="2007.5" width="84.0" height="700.0" fill="none" stroke="#000" stroke-width="3.2"/>
<line x1="1392.0" y1="2007.5" x2="1414.0" y2="2007.5" stroke="#000" stroke-width="3.2" stroke-linecap="butt"/>
<text x="1423.0" y="2024.0" font-size="49" text-anchor="start">1.5</text>
<line x1="1392.0" y1="2124.2" x2="1414.0" y2="2124.2" stroke="#000" stroke-width="3.2" stroke-linecap="butt"/>
<text x="1423.0" y="2140.7" font-size="49" text-anchor="start">1.0</text>
<line x1="1392.0" y1="2241.0" x2="1414.0" y2="2241.0" stroke="#000" stroke-width="3.2" stroke-linecap="butt"/>
<text x="1423.0" y="2257.5" font-size="49" text-anchor="start">0.5</text>
<line x1="1392.0" y1="2358.5" x2="1414.0" y2="2358.5" stroke="#000" stroke-width="3.2" stroke-linecap="butt"/>
<text x="1423.0" y="2375.0" font-size="49" text-anchor="start">0</text>
<line x1="1392.0" y1="2475.0" x2="1414.0" y2="2475.0" stroke="#000" stroke-width="3.2" stroke-linecap="butt"/>
<text x="1423.0" y="2491.5" font-size="49" text-anchor="start">−0.5</text>
<line x1="1392.0" y1="2591.5" x2="1414.0" y2="2591.5" stroke="#000" stroke-width="3.2" stroke-linecap="butt"/>
<text x="1423.0" y="2608.0" font-size="49" text-anchor="start">−1.0</text>
<line x1="1392.0" y1="2706.5" x2="1414.0" y2="2706.5" stroke="#000" stroke-width="3.2" stroke-linecap="butt"/>
<text x="1423.0" y="2723.0" font-size="49" text-anchor="start">−1.5</text>
<rect x="2033.5" y="9.5" width="69.5" height="33.0" fill="#e4e4e4" stroke="#444" stroke-width="1.6"/>
<text x="2120.0" y="43.0" font-size="49" text-anchor="start">2020</text>
<rect x="2396.0" y="9.5" width="69.5" height="33.0" fill="#fdbaa6" stroke="#5a3420" stroke-width="1.6"/>
<text x="2482.5" y="43.0" font-size="49" text-anchor="start">2021</text>
<rect x="2771.5" y="9.5" width="69.5" height="33.0" fill="#4a5af4" stroke="#1c2a90" stroke-width="1.6"/>
<text x="2858.0" y="43.0" font-size="49" text-anchor="start">2022</text>
<rect x="3139.0" y="9.5" width="69.5" height="33.0" fill="#a8fbe2" stroke="#466" stroke-width="1.6"/>
<text x="3225.5" y="43.0" font-size="49" text-anchor="start">2023</text>
<text x="1560.0" y="160.5" font-size="67.5" text-anchor="start">B</text>
<text x="2018.8" y="168.3" font-size="41.8" text-anchor="middle">Polymyxins</text>
<text x="1623.0" y="434.8" font-size="42" text-anchor="middle" transform="rotate(-90 1623.0 434.8)">Annual prevalence (%)</text>
<line x1="1704.0" y1="633.0" x2="1719.3" y2="633.0" stroke="#000" stroke-width="3.5" stroke-linecap="butt"/>
<text x="1698.0" y="647.5" font-size="42" text-anchor="end">0.0</text>
<line x1="1704.0" y1="556.1" x2="1719.3" y2="556.1" stroke="#000" stroke-width="3.5" stroke-linecap="butt"/>
<text x="1698.0" y="570.6" font-size="42" text-anchor="end">0.1</text>
<line x1="1704.0" y1="479.2" x2="1719.3" y2="479.2" stroke="#000" stroke-width="3.5" stroke-linecap="butt"/>
<text x="1698.0" y="493.7" font-size="42" text-anchor="end">0.2</text>
<line x1="1704.0" y1="402.3" x2="1719.3" y2="402.3" stroke="#000" stroke-width="3.5" stroke-linecap="butt"/>
<text x="1698.0" y="416.8" font-size="42" text-anchor="end">0.3</text>
<line x1="1704.0" y1="325.4" x2="1719.3" y2="325.4" stroke="#000" stroke-width="3.5" stroke-linecap="butt"/>
<text x="1698.0" y="339.9" font-size="42" text-anchor="end">0.4</text>
<line x1="1704.0" y1="248.5" x2="1719.3" y2="248.5" stroke="#000" stroke-width="3.5" stroke-linecap="butt"/>
<text x="1698.0" y="263.0" font-size="42" text-anchor="end">0.5</text>
<rect x="1894.6" y="310.0" width="89.2" height="323.0" fill="#fdb8a8" stroke="#2a1a10" stroke-width="1.4"/>
<rect x="2160.6" y="519.2" width="89.2" height="113.8" fill="#a8fce0" stroke="#1a302a" stroke-width="1.4"/>
<line x1="1717.6" y1="246.0" x2="1717.6" y2="634.8" stroke="#000" stroke-width="3.5" stroke-linecap="butt"/>
<line x1="1704.0" y1="633.0" x2="2295.4" y2="633.0" stroke="#000" stroke-width="3.5" stroke-linecap="butt"/>
<line x1="1805.5" y1="633.0" x2="1805.5" y2="645.5" stroke="#000" stroke-width="3.5" stroke-linecap="butt"/>
<text x="1805.5" y="678.6" font-size="42" text-anchor="middle">2020</text>
<line x1="1938.2" y1="633.0" x2="1938.2" y2="645.5" stroke="#000" stroke-width="3.5" stroke-linecap="butt"/>
<text x="1938.2" y="678.6" font-size="42" text-anchor="middle">2021</text>
<line x1="2072.0" y1="633.0" x2="2072.0" y2="645.5" stroke="#000" stroke-width="3.5" stroke-linecap="butt"/>
<text x="2072.0" y="678.6" font-size="42" text-anchor="middle">2022</text>
<line x1="2204.8" y1="633.0" x2="2204.8" y2="645.5" stroke="#000" stroke-width="3.5" stroke-linecap="butt"/>
<text x="2204.8" y="678.6" font-size="42" text-anchor="middle">2023</text>
<text x="2001.6" y="724.6" font-size="42" text-anchor="middle">mcr-9</text>
<text x="2318.2" y="154.7" font-size="67.5" text-anchor="start">C</text>
<text x="2755.0" y="166.5" font-size="41.8" text-anchor="middle">Quinolones</text>
<rect x="2464.0" y="520.4" width="12.2" height="109.6" fill="#e4e4e4" stroke="#2a2a2a" stroke-width="1.2"/>
<rect x="2464.0" y="411.8" width="12.2" height="86.2" fill="#e4e4e4" stroke="#2a2a2a" stroke-width="1.2"/>
<rect x="2482.0" y="520.4" width="12.2" height="109.6" fill="#fdb8a8" stroke="#2a1a10" stroke-width="1.2"/>
<rect x="2482.0" y="397.4" width="12.2" height="100.6" fill="#fdb8a8" stroke="#2a1a10" stroke-width="1.2"/>
<rect x="2500.0" y="520.4" width="12.2" height="109.6" fill="#4d5cf5" stroke="#141a60" stroke-width="1.2"/>
<rect x="2500.0" y="414.6" width="12.2" height="83.4" fill="#4d5cf5" stroke="#141a60" stroke-width="1.2"/>
<rect x="2518.0" y="520.4" width="12.2" height="109.6" fill="#a8fce0" stroke="#1a302a" stroke-width="1.2"/>
<rect x="2518.0" y="383.0" width="12.2" height="115.0" fill="#a8fce0" stroke="#1a302a" stroke-width="1.2"/>
<rect x="2583.2" y="628.9" width="12.2" height="1.1" fill="#4d5cf5" stroke="#141a60" stroke-width="1.2"/>
<rect x="2684.3" y="624.3" width="12.2" height="5.7" fill="#a8fce0" stroke="#1a302a" stroke-width="1.2"/>
<rect x="2713.5" y="600.2" width="12.2" height="29.8" fill="#e4e4e4" stroke="#2a2a2a" stroke-width="1.2"/>
<rect x="2731.5" y="556.6" width="12.2" height="73.4" fill="#fdb8a8" stroke="#2a1a10" stroke-width="1.2"/>
<rect x="2749.5" y="537.3" width="12.2" height="92.7" fill="#4d5cf5" stroke="#141a60" stroke-width="1.2"/>
<rect x="2767.5" y="558.8" width="12.2" height="71.2" fill="#a8fce0" stroke="#1a302a" stroke-width="1.2"/>
<rect x="2796.7" y="520.4" width="12.2" height="109.6" fill="#e4e4e4" stroke="#2a2a2a" stroke-width="1.2"/>
<rect x="2796.7" y="383.0" width="12.2" height="115.0" fill="#e4e4e4" stroke="#2a2a2a" stroke-width="1.2"/>
<rect x="2796.7" y="340.3" width="12.2" height="20.1" fill="#e4e4e4" stroke="#2a2a2a" stroke-width="1.2"/>
<rect x="2814.7" y="520.4" width="12.2" height="109.6" fill="#fdb8a8" stroke="#2a1a10" stroke-width="1.2"/>
<rect x="2814.7" y="383.0" width="12.2" height="115.0" fill="#fdb8a8" stroke="#2a1a10" stroke-width="1.2"/>
<rect x="2814.7" y="307.5" width="12.2" height="52.9" fill="#fdb8a8" stroke="#2a1a10" stroke-width="1.2"/>
<rect x="2832.7" y="520.4" width="12.2" height="109.6" fill="#4d5cf5" stroke="#141a60" stroke-width="1.2"/>
<rect x="2832.7" y="383.0" width="12.2" height="115.0" fill="#4d5cf5" stroke="#141a60" stroke-width="1.2"/>
<rect x="2832.7" y="292.5" width="12.2" height="67.9" fill="#4d5cf5" stroke="#141a60" stroke-width="1.2"/>
<rect x="2850.7" y="520.4" width="12.2" height="109.6" fill="#a8fce0" stroke="#1a302a" stroke-width="1.2"/>
<rect x="2850.7" y="383.0" width="12.2" height="115.0" fill="#a8fce0" stroke="#1a302a" stroke-width="1.2"/>
<rect x="2850.7" y="248.9" width="12.2" height="111.5" fill="#a8fce0" stroke="#1a302a" stroke-width="1.2"/>
<rect x="2981.0" y="621.9" width="12.2" height="8.1" fill="#e4e4e4" stroke="#2a2a2a" stroke-width="1.2"/>
<rect x="3017.0" y="626.7" width="12.2" height="3.3" fill="#e4e4e4" stroke="#2a2a2a" stroke-width="1.2"/>
<line x1="2459.0" y1="520.4" x2="2459.0" y2="631.8" stroke="#000" stroke-width="3.5" stroke-linecap="butt"/>
<line x1="2459.0" y1="383.0" x2="2459.0" y2="498.0" stroke="#000" stroke-width="3.5" stroke-linecap="butt"/>
<line x1="2459.0" y1="245.4" x2="2459.0" y2="360.4" stroke="#000" stroke-width="3.5" stroke-linecap="butt"/>
<line x1="2445.0" y1="630.0" x2="2460.8" y2="630.0" stroke="#000" stroke-width="3.5" stroke-linecap="butt"/>
<text x="2436.2" y="644.5" font-size="42" text-anchor="end">0</text>
<line x1="2445.0" y1="608.1" x2="2460.8" y2="608.1" stroke="#000" stroke-width="3.5" stroke-linecap="butt"/>
<line x1="2445.0" y1="586.2" x2="2460.8" y2="586.2" stroke="#000" stroke-width="3.5" stroke-linecap="butt"/>
<text x="2436.2" y="600.7" font-size="42" text-anchor="end">2</text>
<line x1="2445.0" y1="564.2" x2="2460.8" y2="564.2" stroke="#000" stroke-width="3.5" stroke-linecap="butt"/>
<line x1="2445.0" y1="542.3" x2="2460.8" y2="542.3" stroke="#000" stroke-width="3.5" stroke-linecap="butt"/>
<text x="2436.2" y="556.8" font-size="42" text-anchor="end">4</text>
<text x="2436.2" y="512.5" font-size="42" text-anchor="end">8</text>
<line x1="2445.0" y1="469.2" x2="2460.8" y2="469.2" stroke="#000" stroke-width="3.5" stroke-linecap="butt"/>
<line x1="2445.0" y1="440.5" x2="2460.8" y2="440.5" stroke="#000" stroke-width="3.5" stroke-linecap="butt"/>
<text x="2436.2" y="455.0" font-size="42" text-anchor="end">10</text>
<line x1="2445.0" y1="411.8" x2="2460.8" y2="411.8" stroke="#000" stroke-width="3.5" stroke-linecap="butt"/>
<text x="2436.2" y="397.5" font-size="42" text-anchor="end">12</text>
<text x="2436.2" y="374.9" font-size="42" text-anchor="end">20</text>
<line x1="2445.0" y1="331.6" x2="2460.8" y2="331.6" stroke="#000" stroke-width="3.5" stroke-linecap="butt"/>
<line x1="2445.0" y1="302.9" x2="2460.8" y2="302.9" stroke="#000" stroke-width="3.5" stroke-linecap="butt"/>
<text x="2436.2" y="317.4" font-size="42" text-anchor="end">30</text>
<line x1="2445.0" y1="274.1" x2="2460.8" y2="274.1" stroke="#000" stroke-width="3.5" stroke-linecap="butt"/>
<line x1="2445.0" y1="245.4" x2="2460.8" y2="245.4" stroke="#000" stroke-width="3.5" stroke-linecap="butt"/>
<text x="2436.2" y="259.9" font-size="42" text-anchor="end">40</text>
<line x1="2450.0" y1="352.5" x2="2467.5" y2="368.0" stroke="#000" stroke-width="3.2" stroke-linecap="butt"/>
<line x1="2450.0" y1="374.5" x2="2467.5" y2="390.0" stroke="#000" stroke-width="3.2" stroke-linecap="butt"/>
<line x1="2450.0" y1="488.7" x2="2467.5" y2="505.5" stroke="#000" stroke-width="3.2" stroke-linecap="butt"/>
<line x1="2450.0" y1="512.3" x2="2467.5" y2="528.0" stroke="#000" stroke-width="3.2" stroke-linecap="butt"/>
<line x1="2446.6" y1="630.0" x2="3035.4" y2="630.0" stroke="#000" stroke-width="3.5" stroke-linecap="butt"/>
<line x1="2497.0" y1="630.0" x2="2497.0" y2="643.0" stroke="#000" stroke-width="3.5" stroke-linecap="butt"/>
<text x="2525.0" y="674.7" font-size="42" text-anchor="end" transform="rotate(-45 2525.0 674.7)">aac(6')-Ib-cr</text>
<line x1="2580.2" y1="630.0" x2="2580.2" y2="643.0" stroke="#000" stroke-width="3.5" stroke-linecap="butt"/>
<text x="2608.2" y="674.7" font-size="42" text-anchor="end" transform="rotate(-45 2608.2 674.7)">qnrA7</text>
<line x1="2663.3" y1="630.0" x2="2663.3" y2="643.0" stroke="#000" stroke-width="3.5" stroke-linecap="butt"/>
<text x="2691.3" y="674.7" font-size="42" text-anchor="end" transform="rotate(-45 2691.3 674.7)">qnrB19</text>
<line x1="2746.5" y1="630.0" x2="2746.5" y2="643.0" stroke="#000" stroke-width="3.5" stroke-linecap="butt"/>
<text x="2774.5" y="674.7" font-size="42" text-anchor="end" transform="rotate(-45 2774.5 674.7)">qnrB6</text>
<line x1="2829.7" y1="630.0" x2="2829.7" y2="643.0" stroke="#000" stroke-width="3.5" stroke-linecap="butt"/>
<text x="2857.7" y="674.7" font-size="42" text-anchor="end" transform="rotate(-45 2857.7 674.7)">qnrS1</text>
<line x1="2912.8" y1="630.0" x2="2912.8" y2="643.0" stroke="#000" stroke-width="3.5" stroke-linecap="butt"/>
<text x="2940.8" y="674.7" font-size="42" text-anchor="end" transform="rotate(-45 2940.8 674.7)">qnrS13</text>
<line x1="2996.0" y1="630.0" x2="2996.0" y2="643.0" stroke="#000" stroke-width="3.5" stroke-linecap="butt"/>
<text x="3024.0" y="674.7" font-size="42" text-anchor="end" transform="rotate(-45 3024.0 674.7)">qnrVC1</text>
<text x="3063.5" y="154.6" font-size="67.5" text-anchor="start">D</text>
<text x="3491.0" y="164.4" font-size="41.8" text-anchor="middle">Tetracyclines</text>
<rect x="3211.5" y="472.1" width="43.0" height="158.5" fill="#e4e4e4" stroke="#2a2a2a" stroke-width="1.4"/>
<rect x="3275.5" y="441.3" width="43.0" height="189.3" fill="#fdb8a8" stroke="#2a1a10" stroke-width="1.4"/>
<rect x="3339.5" y="349.7" width="43.0" height="280.9" fill="#4d5cf5" stroke="#141a60" stroke-width="1.4"/>
<rect x="3403.5" y="290.1" width="43.0" height="340.5" fill="#a8fce0" stroke="#1a302a" stroke-width="1.4"/>
<rect x="3638.9" y="623.5" width="43.0" height="7.1" fill="#4d5cf5" stroke="#141a60" stroke-width="1.4"/>
<rect x="3702.9" y="622.3" width="43.0" height="8.3" fill="#a8fce0" stroke="#1a302a" stroke-width="1.4"/>
<line x1="3176.9" y1="630.6" x2="3192.2" y2="630.6" stroke="#000" stroke-width="3.5" stroke-linecap="butt"/>
<text x="3172.5" y="645.1" font-size="42" text-anchor="end">0</text>
<line x1="3176.9" y1="534.4" x2="3192.2" y2="534.4" stroke="#000" stroke-width="3.5" stroke-linecap="butt"/>
<text x="3172.5" y="548.9" font-size="42" text-anchor="end">5</text>
<line x1="3176.9" y1="438.2" x2="3192.2" y2="438.2" stroke="#000" stroke-width="3.5" stroke-linecap="butt"/>
<text x="3172.5" y="452.7" font-size="42" text-anchor="end">10</text>
<line x1="3176.9" y1="342.0" x2="3192.2" y2="342.0" stroke="#000" stroke-width="3.5" stroke-linecap="butt"/>
<text x="3172.5" y="356.5" font-size="42" text-anchor="end">15</text>
<line x1="3176.9" y1="245.8" x2="3192.2" y2="245.8" stroke="#000" stroke-width="3.5" stroke-linecap="butt"/>
<text x="3172.5" y="260.3" font-size="42" text-anchor="end">20</text>
<line x1="3190.5" y1="243.4" x2="3190.5" y2="632.4" stroke="#000" stroke-width="3.5" stroke-linecap="butt"/>
<line x1="3178.5" y1="630.6" x2="3768.0" y2="630.6" stroke="#000" stroke-width="3.5" stroke-linecap="butt"/>
<line x1="3328.8" y1="630.6" x2="3328.8" y2="643.1" stroke="#000" stroke-width="3.5" stroke-linecap="butt"/>
<text x="3328.8" y="683.5" font-size="42" text-anchor="middle">tet(A)</text>
<line x1="3628.2" y1="630.6" x2="3628.2" y2="643.1" stroke="#000" stroke-width="3.5" stroke-linecap="butt"/>
<text x="3628.2" y="683.5" font-size="42" text-anchor="middle">tet(X4)</text>
<text x="1560.5" y="899.5" font-size="67.5" text-anchor="start">E</text>
<text x="2009.0" y="927.7" font-size="41.8" text-anchor="middle">Folate Pathway Inhibitors</text>
<text x="1596.0" y="1171.7" font-size="42" text-anchor="middle" transform="rotate(-90 1596.0 1171.7)">Annual prevalence (%)</text>
<rect x="1701.8" y="1197.5" width="17.0" height="167.2" fill="#e4e4e4" stroke="#2a2a2a" stroke-width="1.3"/>
<rect x="1726.8" y="1166.3" width="17.0" height="198.4" fill="#fdb8a8" stroke="#2a1a10" stroke-width="1.3"/>
<rect x="1751.8" y="1101.0" width="17.0" height="263.7" fill="#4d5cf5" stroke="#141a60" stroke-width="1.3"/>
<rect x="1776.8" y="1025.5" width="17.0" height="339.2" fill="#a8fce0" stroke="#1a302a" stroke-width="1.3"/>
<rect x="1818.9" y="1277.1" width="17.0" height="87.6" fill="#e4e4e4" stroke="#2a2a2a" stroke-width="1.3"/>
<rect x="1843.9" y="1230.9" width="17.0" height="133.8" fill="#fdb8a8" stroke="#2a1a10" stroke-width="1.3"/>
<rect x="1868.9" y="1145.8" width="17.0" height="218.9" fill="#4d5cf5" stroke="#141a60" stroke-width="1.3"/>
<rect x="1893.9" y="1061.3" width="17.0" height="303.4" fill="#a8fce0" stroke="#1a302a" stroke-width="1.3"/>
<rect x="1961.0" y="1363.4" width="17.0" height="1.3" fill="#fdb8a8" stroke="#2a1a10" stroke-width="1.3"/>
<rect x="2011.0" y="1363.4" width="17.0" height="1.3" fill="#a8fce0" stroke="#1a302a" stroke-width="1.3"/>
<rect x="2053.1" y="1277.1" width="17.0" height="87.6" fill="#e4e4e4" stroke="#2a2a2a" stroke-width="1.3"/>
<rect x="2078.1" y="1249.5" width="17.0" height="115.2" fill="#fdb8a8" stroke="#2a1a10" stroke-width="1.3"/>
<rect x="2103.1" y="1222.0" width="17.0" height="142.7" fill="#4d5cf5" stroke="#141a60" stroke-width="1.3"/>
<rect x="2128.1" y="1226.5" width="17.0" height="138.2" fill="#a8fce0" stroke="#1a302a" stroke-width="1.3"/>
<rect x="2170.2" y="1197.5" width="17.0" height="167.2" fill="#e4e4e4" stroke="#2a2a2a" stroke-width="1.3"/>
<rect x="2195.2" y="1198.7" width="17.0" height="166.0" fill="#fdb8a8" stroke="#2a1a10" stroke-width="1.3"/>
<rect x="2220.2" y="1174.6" width="17.0" height="190.1" fill="#4d5cf5" stroke="#141a60" stroke-width="1.3"/>
<rect x="2245.2" y="1193.2" width="17.0" height="171.5" fill="#a8fce0" stroke="#1a302a" stroke-width="1.3"/>
<line x1="1680.0" y1="1364.7" x2="1695.3" y2="1364.7" stroke="#000" stroke-width="3.5" stroke-linecap="butt"/>
<text x="1673.5" y="1379.2" font-size="42" text-anchor="end">0</text>
<line x1="1680.0" y1="1236.7" x2="1695.3" y2="1236.7" stroke="#000" stroke-width="3.5" stroke-linecap="butt"/>
<text x="1673.5" y="1251.2" font-size="42" text-anchor="end">10</text>
<line x1="1680.0" y1="1108.7" x2="1695.3" y2="1108.7" stroke="#000" stroke-width="3.5" stroke-linecap="butt"/>
<text x="1673.5" y="1123.2" font-size="42" text-anchor="end">20</text>
<line x1="1680.0" y1="980.7" x2="1695.3" y2="980.7" stroke="#000" stroke-width="3.5" stroke-linecap="butt"/>
<text x="1673.5" y="995.2" font-size="42" text-anchor="end">30</text>
<line x1="1693.6" y1="979.0" x2="1693.6" y2="1366.5" stroke="#000" stroke-width="3.5" stroke-linecap="butt"/>
<line x1="1680.7" y1="1364.7" x2="2270.6" y2="1364.7" stroke="#000" stroke-width="3.5" stroke-linecap="butt"/>
<line x1="1747.3" y1="1364.7" x2="1747.3" y2="1377.2" stroke="#000" stroke-width="3.5" stroke-linecap="butt"/>
<text x="1778.3" y="1396.7" font-size="42" text-anchor="end" transform="rotate(-45 1778.3 1396.7)">dfrA1</text>
<line x1="1864.4" y1="1364.7" x2="1864.4" y2="1377.2" stroke="#000" stroke-width="3.5" stroke-linecap="butt"/>
<text x="1895.4" y="1396.7" font-size="42" text-anchor="end" transform="rotate(-45 1895.4 1396.7)">dfrA14</text>
<line x1="1981.5" y1="1364.7" x2="1981.5" y2="1377.2" stroke="#000" stroke-width="3.5" stroke-linecap="butt"/>
<text x="2012.5" y="1396.7" font-size="42" text-anchor="end" transform="rotate(-45 2012.5 1396.7)">dfrA15</text>
<line x1="2098.6" y1="1364.7" x2="2098.6" y2="1377.2" stroke="#000" stroke-width="3.5" stroke-linecap="butt"/>
<text x="2129.6" y="1396.7" font-size="42" text-anchor="end" transform="rotate(-45 2129.6 1396.7)">dfrA27</text>
<line x1="2215.7" y1="1364.7" x2="2215.7" y2="1377.2" stroke="#000" stroke-width="3.5" stroke-linecap="butt"/>
<text x="2246.7" y="1396.7" font-size="42" text-anchor="end" transform="rotate(-45 2246.7 1396.7)">sul1</text>
<text x="2317.5" y="896.0" font-size="67.5" text-anchor="start">F</text>
<text x="2765.6" y="927.7" font-size="41.8" text-anchor="middle">Macrolides</text>
<rect x="2523.2" y="1351.9" width="17.0" height="8.1" fill="#4d5cf5" stroke="#141a60" stroke-width="1.3"/>
<rect x="2548.2" y="1355.5" width="17.0" height="4.5" fill="#e4e4e4" stroke="#2a2a2a" stroke-width="1.3"/>
<rect x="2615.3" y="1347.9" width="17.0" height="12.1" fill="#e4e4e4" stroke="#2a2a2a" stroke-width="1.3"/>
<rect x="2665.3" y="1351.7" width="17.0" height="8.3" fill="#e4e4e4" stroke="#2a2a2a" stroke-width="1.3"/>
<rect x="2782.5" y="1351.7" width="17.0" height="8.3" fill="#a8fce0" stroke="#1a302a" stroke-width="1.3"/>
<rect x="2849.6" y="1320.4" width="17.0" height="39.6" fill="#fdb8a8" stroke="#2a1a10" stroke-width="1.3"/>
<rect x="2874.6" y="1343.4" width="17.0" height="16.6" fill="#4d5cf5" stroke="#141a60" stroke-width="1.3"/>
<rect x="2899.6" y="1351.7" width="17.0" height="8.3" fill="#a8fce0" stroke="#1a302a" stroke-width="1.3"/>
<rect x="2941.8" y="1228.4" width="17.0" height="131.6" fill="#e4e4e4" stroke="#2a2a2a" stroke-width="1.3"/>
<rect x="2966.8" y="1037.9" width="17.0" height="322.1" fill="#fdb8a8" stroke="#2a1a10" stroke-width="1.3"/>
<rect x="2991.8" y="1124.2" width="17.0" height="235.8" fill="#4d5cf5" stroke="#141a60" stroke-width="1.3"/>
<rect x="3016.8" y="1161.9" width="17.0" height="198.1" fill="#a8fce0" stroke="#1a302a" stroke-width="1.3"/>
<line x1="2451.3" y1="1360.0" x2="2466.7" y2="1360.0" stroke="#000" stroke-width="3.5" stroke-linecap="butt"/>
<text x="2444.7" y="1374.5" font-size="42" text-anchor="end">0</text>
<line x1="2451.3" y1="1232.2" x2="2466.7" y2="1232.2" stroke="#000" stroke-width="3.5" stroke-linecap="butt"/>
<text x="2444.7" y="1246.7" font-size="42" text-anchor="end">2</text>
<line x1="2451.3" y1="1104.4" x2="2466.7" y2="1104.4" stroke="#000" stroke-width="3.5" stroke-linecap="butt"/>
<text x="2444.7" y="1118.9" font-size="42" text-anchor="end">4</text>
<line x1="2451.3" y1="976.6" x2="2466.7" y2="976.6" stroke="#000" stroke-width="3.5" stroke-linecap="butt"/>
<text x="2444.7" y="991.1" font-size="42" text-anchor="end">6</text>
<line x1="2464.9" y1="975.0" x2="2464.9" y2="1361.8" stroke="#000" stroke-width="3.5" stroke-linecap="butt"/>
<line x1="2450.8" y1="1360.0" x2="3041.9" y2="1360.0" stroke="#000" stroke-width="3.5" stroke-linecap="butt"/>
<line x1="2519.0" y1="1360.0" x2="2519.0" y2="1372.5" stroke="#000" stroke-width="3.5" stroke-linecap="butt"/>
<text x="2550.0" y="1392.0" font-size="42" text-anchor="end" transform="rotate(-45 2550.0 1392.0)">erm(42)</text>
<line x1="2636.2" y1="1360.0" x2="2636.2" y2="1372.5" stroke="#000" stroke-width="3.5" stroke-linecap="butt"/>
<text x="2667.2" y="1392.0" font-size="42" text-anchor="end" transform="rotate(-45 2667.2 1392.0)">erm(B)</text>
<line x1="2753.3" y1="1360.0" x2="2753.3" y2="1372.5" stroke="#000" stroke-width="3.5" stroke-linecap="butt"/>
<text x="2784.3" y="1392.0" font-size="42" text-anchor="end" transform="rotate(-45 2784.3 1392.0)">erm(C)</text>
<line x1="2870.4" y1="1360.0" x2="2870.4" y2="1372.5" stroke="#000" stroke-width="3.5" stroke-linecap="butt"/>
<text x="2901.4" y="1392.0" font-size="42" text-anchor="end" transform="rotate(-45 2901.4 1392.0)">mef(B)</text>
<line x1="2987.6" y1="1360.0" x2="2987.6" y2="1372.5" stroke="#000" stroke-width="3.5" stroke-linecap="butt"/>
<text x="3018.6" y="1392.0" font-size="42" text-anchor="end" transform="rotate(-45 3018.6 1392.0)">mph(A)</text>
<text x="3064.5" y="896.0" font-size="67.5" text-anchor="start">G</text>
<text x="3500.5" y="927.7" font-size="41.8" text-anchor="middle">Lincosamides</text>
<rect x="3223.0" y="1118.2" width="43.0" height="243.8" fill="#e4e4e4" stroke="#2a2a2a" stroke-width="1.4"/>
<rect x="3287.2" y="1151.8" width="43.0" height="210.2" fill="#fdb8a8" stroke="#2a1a10" stroke-width="1.4"/>
<rect x="3351.4" y="1050.4" width="43.0" height="311.6" fill="#4d5cf5" stroke="#141a60" stroke-width="1.4"/>
<rect x="3415.6" y="1023.3" width="43.0" height="338.7" fill="#a8fce0" stroke="#1a302a" stroke-width="1.4"/>
<rect x="3649.8" y="1350.8" width="43.0" height="11.2" fill="#4d5cf5" stroke="#141a60" stroke-width="1.4"/>
<rect x="3714.0" y="1349.6" width="43.0" height="12.4" fill="#a8fce0" stroke="#1a302a" stroke-width="1.4"/>
<line x1="3188.7" y1="1362.0" x2="3204.4" y2="1362.0" stroke="#000" stroke-width="3.5" stroke-linecap="butt"/>
<text x="3182.3" y="1376.5" font-size="42" text-anchor="end">0</text>
<line x1="3193.7" y1="1332.5" x2="3204.4" y2="1332.5" stroke="#000" stroke-width="3.5" stroke-linecap="butt"/>
<line x1="3193.7" y1="1303.0" x2="3204.4" y2="1303.0" stroke="#000" stroke-width="3.5" stroke-linecap="butt"/>
<line x1="3193.7" y1="1273.6" x2="3204.4" y2="1273.6" stroke="#000" stroke-width="3.5" stroke-linecap="butt"/>
<line x1="3193.7" y1="1244.1" x2="3204.4" y2="1244.1" stroke="#000" stroke-width="3.5" stroke-linecap="butt"/>
<line x1="3188.7" y1="1214.6" x2="3204.4" y2="1214.6" stroke="#000" stroke-width="3.5" stroke-linecap="butt"/>
<text x="3182.3" y="1229.1" font-size="42" text-anchor="end">5</text>
<line x1="3193.7" y1="1185.1" x2="3204.4" y2="1185.1" stroke="#000" stroke-width="3.5" stroke-linecap="butt"/>
<line x1="3193.7" y1="1155.6" x2="3204.4" y2="1155.6" stroke="#000" stroke-width="3.5" stroke-linecap="butt"/>
<line x1="3193.7" y1="1126.2" x2="3204.4" y2="1126.2" stroke="#000" stroke-width="3.5" stroke-linecap="butt"/>
<line x1="3193.7" y1="1096.7" x2="3204.4" y2="1096.7" stroke="#000" stroke-width="3.5" stroke-linecap="butt"/>
<line x1="3188.7" y1="1067.2" x2="3204.4" y2="1067.2" stroke="#000" stroke-width="3.5" stroke-linecap="butt"/>
<text x="3182.3" y="1081.7" font-size="42" text-anchor="end">10</text>
<line x1="3193.7" y1="1037.7" x2="3204.4" y2="1037.7" stroke="#000" stroke-width="3.5" stroke-linecap="butt"/>
<line x1="3193.7" y1="1008.2" x2="3204.4" y2="1008.2" stroke="#000" stroke-width="3.5" stroke-linecap="butt"/>
<line x1="3193.7" y1="978.8" x2="3204.4" y2="978.8" stroke="#000" stroke-width="3.5" stroke-linecap="butt"/>
<line x1="3202.7" y1="977.0" x2="3202.7" y2="1363.8" stroke="#000" stroke-width="3.5" stroke-linecap="butt"/>
<line x1="3188.8" y1="1362.0" x2="3780.0" y2="1362.0" stroke="#000" stroke-width="3.5" stroke-linecap="butt"/>
<line x1="3340.8" y1="1362.0" x2="3340.8" y2="1374.5" stroke="#000" stroke-width="3.5" stroke-linecap="butt"/>
<text x="3340.8" y="1411.0" font-size="42" text-anchor="middle">lnu(F)</text>
<line x1="3639.2" y1="1362.0" x2="3639.2" y2="1374.5" stroke="#000" stroke-width="3.5" stroke-linecap="butt"/>
<text x="3639.2" y="1411.0" font-size="42" text-anchor="middle">lnu(G)</text>
<text x="1559.0" y="1521.8" font-size="67.5" text-anchor="start">H</text>
<text x="2337.0" y="1567.9" font-size="41.8" text-anchor="middle">β-lactams</text>
<text x="1608.0" y="1839.0" font-size="42" text-anchor="middle" transform="rotate(-90 1608.0 1839.0)">Annual prevalence (%)</text>
<rect x="1692.2" y="2024.6" width="7.0" height="7.6" fill="#e4e4e4" stroke="#2a2a2a" stroke-width="1.1"/>
<rect x="1702.2" y="2020.1" width="7.0" height="12.1" fill="#fdb8a8" stroke="#2a1a10" stroke-width="1.1"/>
<rect x="1712.2" y="2017.6" width="7.0" height="14.6" fill="#4d5cf5" stroke="#141a60" stroke-width="1.1"/>
<rect x="1722.2" y="2008.2" width="7.0" height="24.0" fill="#a8fce0" stroke="#1a302a" stroke-width="1.1"/>
<rect x="1749.8" y="2031.6" width="7.0" height="0.6" fill="#fdb8a8" stroke="#2a1a10" stroke-width="1.1"/>
<rect x="1769.8" y="2028.4" width="7.0" height="3.8" fill="#a8fce0" stroke="#1a302a" stroke-width="1.1"/>
<rect x="1797.3" y="2031.6" width="7.0" height="0.6" fill="#fdb8a8" stroke="#2a1a10" stroke-width="1.1"/>
<rect x="1817.3" y="2028.4" width="7.0" height="3.8" fill="#a8fce0" stroke="#1a302a" stroke-width="1.1"/>
<rect x="1892.5" y="2030.9" width="7.0" height="1.3" fill="#fdb8a8" stroke="#2a1a10" stroke-width="1.1"/>
<rect x="1940.0" y="2031.2" width="7.0" height="1.0" fill="#fdb8a8" stroke="#2a1a10" stroke-width="1.1"/>
<rect x="1960.0" y="2028.4" width="7.0" height="3.8" fill="#a8fce0" stroke="#1a302a" stroke-width="1.1"/>
<rect x="2045.2" y="2028.4" width="7.0" height="3.8" fill="#4d5cf5" stroke="#141a60" stroke-width="1.1"/>
<rect x="2120.3" y="1955.0" width="7.0" height="77.2" fill="#e4e4e4" stroke="#2a2a2a" stroke-width="1.1"/>
<rect x="2130.3" y="1922.0" width="7.0" height="110.2" fill="#fdb8a8" stroke="#2a1a10" stroke-width="1.1"/>
<rect x="2140.3" y="1910.5" width="7.0" height="121.7" fill="#4d5cf5" stroke="#141a60" stroke-width="1.1"/>
<rect x="2150.3" y="1868.4" width="7.0" height="163.8" fill="#a8fce0" stroke="#1a302a" stroke-width="1.1"/>
<rect x="2177.9" y="2031.2" width="7.0" height="1.0" fill="#fdb8a8" stroke="#2a1a10" stroke-width="1.1"/>
<rect x="2197.9" y="2028.4" width="7.0" height="3.8" fill="#a8fce0" stroke="#1a302a" stroke-width="1.1"/>
<rect x="2225.5" y="2016.5" width="7.0" height="15.7" fill="#fdb8a8" stroke="#2a1a10" stroke-width="1.1"/>
<rect x="2235.5" y="2009.7" width="7.0" height="22.5" fill="#4d5cf5" stroke="#141a60" stroke-width="1.1"/>
<rect x="2245.5" y="2014.7" width="7.0" height="17.5" fill="#a8fce0" stroke="#1a302a" stroke-width="1.1"/>
<rect x="2293.0" y="2022.8" width="7.0" height="9.4" fill="#a8fce0" stroke="#1a302a" stroke-width="1.1"/>
<rect x="2310.6" y="1816.9" width="7.0" height="215.3" fill="#e4e4e4" stroke="#2a2a2a" stroke-width="1.1"/>
<rect x="2320.6" y="1879.5" width="7.0" height="152.7" fill="#fdb8a8" stroke="#2a1a10" stroke-width="1.1"/>
<rect x="2330.6" y="1878.2" width="7.0" height="154.0" fill="#4d5cf5" stroke="#141a60" stroke-width="1.1"/>
<rect x="2340.6" y="1815.6" width="7.0" height="216.6" fill="#a8fce0" stroke="#1a302a" stroke-width="1.1"/>
<rect x="2358.2" y="1894.5" width="7.0" height="137.7" fill="#e4e4e4" stroke="#2a2a2a" stroke-width="1.1"/>
<rect x="2368.2" y="1948.3" width="7.0" height="83.9" fill="#fdb8a8" stroke="#2a1a10" stroke-width="1.1"/>
<rect x="2378.2" y="1927.0" width="7.0" height="105.2" fill="#4d5cf5" stroke="#141a60" stroke-width="1.1"/>
<rect x="2388.2" y="1879.5" width="7.0" height="152.7" fill="#a8fce0" stroke="#1a302a" stroke-width="1.1"/>
<rect x="2405.7" y="2007.2" width="7.0" height="25.0" fill="#e4e4e4" stroke="#2a2a2a" stroke-width="1.1"/>
<rect x="2415.7" y="2004.7" width="7.0" height="27.5" fill="#fdb8a8" stroke="#2a1a10" stroke-width="1.1"/>
<rect x="2425.7" y="2008.4" width="7.0" height="23.8" fill="#4d5cf5" stroke="#141a60" stroke-width="1.1"/>
<rect x="2435.7" y="1995.3" width="7.0" height="36.9" fill="#a8fce0" stroke="#1a302a" stroke-width="1.1"/>
<rect x="2568.5" y="2030.3" width="7.0" height="1.9" fill="#4d5cf5" stroke="#141a60" stroke-width="1.1"/>
<rect x="2606.0" y="2030.9" width="7.0" height="1.3" fill="#fdb8a8" stroke="#2a1a10" stroke-width="1.1"/>
<rect x="2691.2" y="1781.8" width="7.0" height="250.4" fill="#e4e4e4" stroke="#2a2a2a" stroke-width="1.1"/>
<rect x="2691.2" y="1684.0" width="7.0" height="73.6" fill="#e4e4e4" stroke="#2a2a2a" stroke-width="1.1"/>
<rect x="2701.2" y="1781.8" width="7.0" height="250.4" fill="#fdb8a8" stroke="#2a1a10" stroke-width="1.1"/>
<rect x="2701.2" y="1705.5" width="7.0" height="52.1" fill="#fdb8a8" stroke="#2a1a10" stroke-width="1.1"/>
<rect x="2711.2" y="1781.8" width="7.0" height="250.4" fill="#4d5cf5" stroke="#141a60" stroke-width="1.1"/>
<rect x="2711.2" y="1687.3" width="7.0" height="70.3" fill="#4d5cf5" stroke="#141a60" stroke-width="1.1"/>
<rect x="2721.2" y="1781.8" width="7.0" height="250.4" fill="#a8fce0" stroke="#1a302a" stroke-width="1.1"/>
<rect x="2721.2" y="1685.4" width="7.0" height="72.2" fill="#a8fce0" stroke="#1a302a" stroke-width="1.1"/>
<rect x="2891.4" y="2027.8" width="7.0" height="4.4" fill="#fdb8a8" stroke="#2a1a10" stroke-width="1.1"/>
<rect x="2911.4" y="2030.9" width="7.0" height="1.3" fill="#a8fce0" stroke="#1a302a" stroke-width="1.1"/>
<line x1="1689.5" y1="1781.8" x2="1689.5" y2="2034.0" stroke="#000" stroke-width="3.5" stroke-linecap="butt"/>
<line x1="1689.5" y1="1647.2" x2="1689.5" y2="1757.6" stroke="#000" stroke-width="3.5" stroke-linecap="butt"/>
<line x1="1675.5" y1="2032.2" x2="1691.2" y2="2032.2" stroke="#000" stroke-width="3.5" stroke-linecap="butt"/>
<text x="1673.4" y="2046.7" font-size="42" text-anchor="end">0</text>
<line x1="1675.5" y1="1969.6" x2="1691.2" y2="1969.6" stroke="#000" stroke-width="3.5" stroke-linecap="butt"/>
<text x="1673.4" y="1984.1" font-size="42" text-anchor="end">5</text>
<line x1="1675.5" y1="1907.0" x2="1691.2" y2="1907.0" stroke="#000" stroke-width="3.5" stroke-linecap="butt"/>
<text x="1673.4" y="1921.5" font-size="42" text-anchor="end">10</text>
<line x1="1675.5" y1="1844.4" x2="1691.2" y2="1844.4" stroke="#000" stroke-width="3.5" stroke-linecap="butt"/>
<text x="1673.4" y="1858.9" font-size="42" text-anchor="end">15</text>
<text x="1673.4" y="1796.3" font-size="42" text-anchor="end">20</text>
<text x="1673.4" y="1772.1" font-size="42" text-anchor="end">40</text>
<line x1="1675.5" y1="1730.4" x2="1691.2" y2="1730.4" stroke="#000" stroke-width="3.5" stroke-linecap="butt"/>
<line x1="1675.5" y1="1703.3" x2="1691.2" y2="1703.3" stroke="#000" stroke-width="3.5" stroke-linecap="butt"/>
<text x="1673.4" y="1717.8" font-size="42" text-anchor="end">60</text>
<line x1="1675.5" y1="1676.2" x2="1691.2" y2="1676.2" stroke="#000" stroke-width="3.5" stroke-linecap="butt"/>
<line x1="1675.5" y1="1649.0" x2="1691.2" y2="1649.0" stroke="#000" stroke-width="3.5" stroke-linecap="butt"/>
<text x="1673.4" y="1663.5" font-size="42" text-anchor="end">80</text>
<line x1="1680.0" y1="1751.5" x2="1699.5" y2="1764.5" stroke="#000" stroke-width="3" stroke-linecap="butt"/>
<line x1="1680.0" y1="1777.0" x2="1699.5" y2="1790.0" stroke="#000" stroke-width="3" stroke-linecap="butt"/>
<line x1="1672.0" y1="2032.2" x2="2970.5" y2="2032.2" stroke="#000" stroke-width="3.5" stroke-linecap="butt"/>
<line x1="1710.6" y1="2032.2" x2="1710.6" y2="2045.0" stroke="#000" stroke-width="3.5" stroke-linecap="butt"/>
<text x="1726.1" y="2068.7" font-size="41" text-anchor="end" transform="rotate(-45 1726.1 2068.7)">blaCMY-2</text>
<line x1="1758.2" y1="2032.2" x2="1758.2" y2="2045.0" stroke="#000" stroke-width="3.5" stroke-linecap="butt"/>
<text x="1773.7" y="2068.7" font-size="41" text-anchor="end" transform="rotate(-45 1773.7 2068.7)">blaCTX-M-122</text>
<line x1="1805.7" y1="2032.2" x2="1805.7" y2="2045.0" stroke="#000" stroke-width="3.5" stroke-linecap="butt"/>
<text x="1821.2" y="2068.7" font-size="41" text-anchor="end" transform="rotate(-45 1821.2 2068.7)">blaCTX-M-125</text>
<line x1="1853.3" y1="2032.2" x2="1853.3" y2="2045.0" stroke="#000" stroke-width="3.5" stroke-linecap="butt"/>
<text x="1868.8" y="2068.7" font-size="41" text-anchor="end" transform="rotate(-45 1868.8 2068.7)">blaCTX-M-130</text>
<line x1="1900.9" y1="2032.2" x2="1900.9" y2="2045.0" stroke="#000" stroke-width="3.5" stroke-linecap="butt"/>
<text x="1916.4" y="2068.7" font-size="41" text-anchor="end" transform="rotate(-45 1916.4 2068.7)">blaCTX-M-15</text>
<line x1="1948.4" y1="2032.2" x2="1948.4" y2="2045.0" stroke="#000" stroke-width="3.5" stroke-linecap="butt"/>
<text x="1963.9" y="2068.7" font-size="41" text-anchor="end" transform="rotate(-45 1963.9 2068.7)">blaCTX-M-196</text>
<line x1="1996.0" y1="2032.2" x2="1996.0" y2="2045.0" stroke="#000" stroke-width="3.5" stroke-linecap="butt"/>
<text x="2011.5" y="2068.7" font-size="41" text-anchor="end" transform="rotate(-45 2011.5 2068.7)">blaCTX-M-24</text>
<line x1="2043.6" y1="2032.2" x2="2043.6" y2="2045.0" stroke="#000" stroke-width="3.5" stroke-linecap="butt"/>
<text x="2059.1" y="2068.7" font-size="41" text-anchor="end" transform="rotate(-45 2059.1 2068.7)">blaCTX-M-27</text>
<line x1="2091.2" y1="2032.2" x2="2091.2" y2="2045.0" stroke="#000" stroke-width="3.5" stroke-linecap="butt"/>
<text x="2106.7" y="2068.7" font-size="41" text-anchor="end" transform="rotate(-45 2106.7 2068.7)">blaCTX-M-3</text>
<line x1="2138.7" y1="2032.2" x2="2138.7" y2="2045.0" stroke="#000" stroke-width="3.5" stroke-linecap="butt"/>
<text x="2154.2" y="2068.7" font-size="41" text-anchor="end" transform="rotate(-45 2154.2 2068.7)">blaCTX-M-65</text>
<line x1="2186.3" y1="2032.2" x2="2186.3" y2="2045.0" stroke="#000" stroke-width="3.5" stroke-linecap="butt"/>
<text x="2201.8" y="2068.7" font-size="41" text-anchor="end" transform="rotate(-45 2201.8 2068.7)">blaCTX-M-99</text>
<line x1="2233.9" y1="2032.2" x2="2233.9" y2="2045.0" stroke="#000" stroke-width="3.5" stroke-linecap="butt"/>
<text x="2249.4" y="2068.7" font-size="41" text-anchor="end" transform="rotate(-45 2249.4 2068.7)">blaLAP-2</text>
<line x1="2281.4" y1="2032.2" x2="2281.4" y2="2045.0" stroke="#000" stroke-width="3.5" stroke-linecap="butt"/>
<text x="2296.9" y="2068.7" font-size="41" text-anchor="end" transform="rotate(-45 2296.9 2068.7)">blaNDM-5</text>
<line x1="2329.0" y1="2032.2" x2="2329.0" y2="2045.0" stroke="#000" stroke-width="3.5" stroke-linecap="butt"/>
<text x="2344.5" y="2068.7" font-size="41" text-anchor="end" transform="rotate(-45 2344.5 2068.7)">blaOXA-1</text>
<line x1="2376.6" y1="2032.2" x2="2376.6" y2="2045.0" stroke="#000" stroke-width="3.5" stroke-linecap="butt"/>
<text x="2392.1" y="2068.7" font-size="41" text-anchor="end" transform="rotate(-45 2392.1 2068.7)">blaOXA-10</text>
<line x1="2424.1" y1="2032.2" x2="2424.1" y2="2045.0" stroke="#000" stroke-width="3.5" stroke-linecap="butt"/>
<text x="2439.6" y="2068.7" font-size="41" text-anchor="end" transform="rotate(-45 2439.6 2068.7)">blaOXA-16</text>
<line x1="2471.7" y1="2032.2" x2="2471.7" y2="2045.0" stroke="#000" stroke-width="3.5" stroke-linecap="butt"/>
<text x="2487.2" y="2068.7" font-size="41" text-anchor="end" transform="rotate(-45 2487.2 2068.7)">blaTEM-106</text>
<line x1="2519.3" y1="2032.2" x2="2519.3" y2="2045.0" stroke="#000" stroke-width="3.5" stroke-linecap="butt"/>
<text x="2534.8" y="2068.7" font-size="41" text-anchor="end" transform="rotate(-45 2534.8 2068.7)">blaTEM-126</text>
<line x1="2566.9" y1="2032.2" x2="2566.9" y2="2045.0" stroke="#000" stroke-width="3.5" stroke-linecap="butt"/>
<text x="2582.4" y="2068.7" font-size="41" text-anchor="end" transform="rotate(-45 2582.4 2068.7)">blaTEM-128</text>
<line x1="2614.4" y1="2032.2" x2="2614.4" y2="2045.0" stroke="#000" stroke-width="3.5" stroke-linecap="butt"/>
<text x="2629.9" y="2068.7" font-size="41" text-anchor="end" transform="rotate(-45 2629.9 2068.7)">blaTEM-135</text>
<line x1="2662.0" y1="2032.2" x2="2662.0" y2="2045.0" stroke="#000" stroke-width="3.5" stroke-linecap="butt"/>
<text x="2677.5" y="2068.7" font-size="41" text-anchor="end" transform="rotate(-45 2677.5 2068.7)">blaTEM-169</text>
<line x1="2709.6" y1="2032.2" x2="2709.6" y2="2045.0" stroke="#000" stroke-width="3.5" stroke-linecap="butt"/>
<text x="2725.1" y="2068.7" font-size="41" text-anchor="end" transform="rotate(-45 2725.1 2068.7)">blaTEM-1B</text>
<line x1="2757.1" y1="2032.2" x2="2757.1" y2="2045.0" stroke="#000" stroke-width="3.5" stroke-linecap="butt"/>
<text x="2772.6" y="2068.7" font-size="41" text-anchor="end" transform="rotate(-45 2772.6 2068.7)">blaTEM-206</text>
<line x1="2804.7" y1="2032.2" x2="2804.7" y2="2045.0" stroke="#000" stroke-width="3.5" stroke-linecap="butt"/>
<text x="2820.2" y="2068.7" font-size="41" text-anchor="end" transform="rotate(-45 2820.2 2068.7)">blaTEM-214</text>
<line x1="2852.3" y1="2032.2" x2="2852.3" y2="2045.0" stroke="#000" stroke-width="3.5" stroke-linecap="butt"/>
<text x="2867.8" y="2068.7" font-size="41" text-anchor="end" transform="rotate(-45 2867.8 2068.7)">blaTEM-220</text>
<line x1="2899.8" y1="2032.2" x2="2899.8" y2="2045.0" stroke="#000" stroke-width="3.5" stroke-linecap="butt"/>
<text x="2915.3" y="2068.7" font-size="41" text-anchor="end" transform="rotate(-45 2915.3 2068.7)">blaTEM-30</text>
<line x1="2947.4" y1="2032.2" x2="2947.4" y2="2045.0" stroke="#000" stroke-width="3.5" stroke-linecap="butt"/>
<text x="2962.9" y="2068.7" font-size="41" text-anchor="end" transform="rotate(-45 2962.9 2068.7)">blaTEM-33</text>
<text x="3064.5" y="1520.0" font-size="67.5" text-anchor="start">I</text>
<text x="3487.0" y="1564.5" font-size="41.8" text-anchor="middle">Chloramphenicol</text>
<rect x="3224.6" y="2025.5" width="21.0" height="2.3" fill="#fdb8a8" stroke="#2a1a10" stroke-width="1.3"/>
<rect x="3256.0" y="2025.1" width="21.0" height="2.7" fill="#4d5cf5" stroke="#141a60" stroke-width="1.3"/>
<rect x="3340.1" y="1928.4" width="21.0" height="99.4" fill="#e4e4e4" stroke="#2a2a2a" stroke-width="1.3"/>
<rect x="3371.5" y="1935.3" width="21.0" height="92.5" fill="#fdb8a8" stroke="#2a1a10" stroke-width="1.3"/>
<rect x="3402.9" y="1940.3" width="21.0" height="87.5" fill="#4d5cf5" stroke="#141a60" stroke-width="1.3"/>
<rect x="3434.3" y="1910.0" width="21.0" height="117.8" fill="#a8fce0" stroke="#1a302a" stroke-width="1.3"/>
<rect x="3487.1" y="1928.4" width="21.0" height="99.4" fill="#e4e4e4" stroke="#2a2a2a" stroke-width="1.3"/>
<rect x="3518.5" y="1935.3" width="21.0" height="92.5" fill="#fdb8a8" stroke="#2a1a10" stroke-width="1.3"/>
<rect x="3549.9" y="1940.3" width="21.0" height="87.5" fill="#4d5cf5" stroke="#141a60" stroke-width="1.3"/>
<rect x="3581.3" y="1910.0" width="21.0" height="117.8" fill="#a8fce0" stroke="#1a302a" stroke-width="1.3"/>
<rect x="3634.0" y="1801.4" width="21.0" height="226.4" fill="#e4e4e4" stroke="#2a2a2a" stroke-width="1.3"/>
<rect x="3665.4" y="1773.8" width="21.0" height="254.0" fill="#fdb8a8" stroke="#2a1a10" stroke-width="1.3"/>
<rect x="3696.8" y="1721.6" width="21.0" height="306.2" fill="#4d5cf5" stroke="#141a60" stroke-width="1.3"/>
<rect x="3728.2" y="1686.3" width="21.0" height="341.5" fill="#a8fce0" stroke="#1a302a" stroke-width="1.3"/>
<line x1="3169.6" y1="2027.8" x2="3184.9" y2="2027.8" stroke="#000" stroke-width="3.5" stroke-linecap="butt"/>
<text x="3160.6" y="2042.3" font-size="42" text-anchor="end">0</text>
<line x1="3169.6" y1="1951.0" x2="3184.9" y2="1951.0" stroke="#000" stroke-width="3.5" stroke-linecap="butt"/>
<text x="3160.6" y="1965.5" font-size="42" text-anchor="end">10</text>
<line x1="3169.6" y1="1874.3" x2="3184.9" y2="1874.3" stroke="#000" stroke-width="3.5" stroke-linecap="butt"/>
<text x="3160.6" y="1888.8" font-size="42" text-anchor="end">20</text>
<line x1="3169.6" y1="1797.5" x2="3184.9" y2="1797.5" stroke="#000" stroke-width="3.5" stroke-linecap="butt"/>
<text x="3160.6" y="1812.0" font-size="42" text-anchor="end">30</text>
<line x1="3169.6" y1="1720.8" x2="3184.9" y2="1720.8" stroke="#000" stroke-width="3.5" stroke-linecap="butt"/>
<text x="3160.6" y="1735.3" font-size="42" text-anchor="end">40</text>
<line x1="3169.6" y1="1644.0" x2="3184.9" y2="1644.0" stroke="#000" stroke-width="3.5" stroke-linecap="butt"/>
<text x="3160.6" y="1658.5" font-size="42" text-anchor="end">50</text>
<line x1="3183.2" y1="1642.3" x2="3183.2" y2="2029.5" stroke="#000" stroke-width="3.5" stroke-linecap="butt"/>
<line x1="3169.5" y1="2027.8" x2="3760.0" y2="2027.8" stroke="#000" stroke-width="3.5" stroke-linecap="butt"/>
<line x1="3250.3" y1="2027.8" x2="3250.3" y2="2040.3" stroke="#000" stroke-width="3.5" stroke-linecap="butt"/>
<text x="3250.3" y="2075.2" font-size="42" text-anchor="middle">catA2</text>
<line x1="3397.2" y1="2027.8" x2="3397.2" y2="2040.3" stroke="#000" stroke-width="3.5" stroke-linecap="butt"/>
<text x="3397.2" y="2075.2" font-size="42" text-anchor="middle">cml</text>
<line x1="3544.2" y1="2027.8" x2="3544.2" y2="2040.3" stroke="#000" stroke-width="3.5" stroke-linecap="butt"/>
<text x="3544.2" y="2075.2" font-size="42" text-anchor="middle">cmlA1</text>
<line x1="3691.2" y1="2027.8" x2="3691.2" y2="2040.3" stroke="#000" stroke-width="3.5" stroke-linecap="butt"/>
<text x="3691.2" y="2075.2" font-size="42" text-anchor="middle">floR</text>
<text x="1561.5" y="2308.0" font-size="67.5" text-anchor="start">J</text>
<text x="2355.0" y="2287.0" font-size="41.8" text-anchor="middle">Aminoglycoside</text>
<text x="1608.0" y="2555.0" font-size="42" text-anchor="middle" transform="rotate(-90 1608.0 2555.0)">Annual prevalence (%)</text>
<rect x="1703.6" y="2706.6" width="12.2" height="46.7" fill="#e4e4e4" stroke="#2a2a2a" stroke-width="1.2"/>
<rect x="1721.8" y="2677.4" width="12.2" height="75.9" fill="#fdb8a8" stroke="#2a1a10" stroke-width="1.2"/>
<rect x="1740.0" y="2689.1" width="12.2" height="64.2" fill="#4d5cf5" stroke="#141a60" stroke-width="1.2"/>
<rect x="1758.2" y="2685.1" width="12.2" height="68.2" fill="#a8fce0" stroke="#1a302a" stroke-width="1.2"/>
<rect x="1789.5" y="2537.4" width="12.2" height="215.9" fill="#e4e4e4" stroke="#2a2a2a" stroke-width="1.2"/>
<rect x="1807.7" y="2562.8" width="12.2" height="190.5" fill="#fdb8a8" stroke="#2a1a10" stroke-width="1.2"/>
<rect x="1825.9" y="2555.8" width="12.2" height="197.5" fill="#4d5cf5" stroke="#141a60" stroke-width="1.2"/>
<rect x="1844.1" y="2512.1" width="12.2" height="241.2" fill="#a8fce0" stroke="#1a302a" stroke-width="1.2"/>
<rect x="1893.5" y="2746.3" width="12.2" height="7.0" fill="#e4e4e4" stroke="#2a2a2a" stroke-width="1.2"/>
<rect x="1929.9" y="2751.9" width="12.2" height="1.4" fill="#e4e4e4" stroke="#2a2a2a" stroke-width="1.2"/>
<rect x="1961.2" y="2489.4" width="12.2" height="263.9" fill="#e4e4e4" stroke="#2a2a2a" stroke-width="1.2"/>
<rect x="1979.4" y="2434.3" width="12.2" height="319.0" fill="#fdb8a8" stroke="#2a1a10" stroke-width="1.2"/>
<rect x="1997.6" y="2440.4" width="12.2" height="312.9" fill="#4d5cf5" stroke="#141a60" stroke-width="1.2"/>
<rect x="2015.8" y="2369.0" width="12.2" height="384.3" fill="#a8fce0" stroke="#1a302a" stroke-width="1.2"/>
<rect x="2065.2" y="2752.4" width="12.2" height="0.9" fill="#fdb8a8" stroke="#2a1a10" stroke-width="1.2"/>
<rect x="2101.6" y="2751.6" width="12.2" height="1.7" fill="#a8fce0" stroke="#1a302a" stroke-width="1.2"/>
<rect x="2132.9" y="2633.6" width="12.2" height="119.7" fill="#e4e4e4" stroke="#2a2a2a" stroke-width="1.2"/>
<rect x="2151.1" y="2595.1" width="12.2" height="158.2" fill="#fdb8a8" stroke="#2a1a10" stroke-width="1.2"/>
<rect x="2169.3" y="2557.5" width="12.2" height="195.8" fill="#4d5cf5" stroke="#141a60" stroke-width="1.2"/>
<rect x="2187.5" y="2561.0" width="12.2" height="192.3" fill="#a8fce0" stroke="#1a302a" stroke-width="1.2"/>
<rect x="2218.8" y="2742.8" width="12.2" height="10.5" fill="#e4e4e4" stroke="#2a2a2a" stroke-width="1.2"/>
<rect x="2255.2" y="2741.9" width="12.2" height="11.4" fill="#4d5cf5" stroke="#141a60" stroke-width="1.2"/>
<rect x="2273.4" y="2748.1" width="12.2" height="5.2" fill="#a8fce0" stroke="#1a302a" stroke-width="1.2"/>
<rect x="2304.6" y="2729.7" width="12.2" height="23.6" fill="#e4e4e4" stroke="#2a2a2a" stroke-width="1.2"/>
<rect x="2322.8" y="2721.3" width="12.2" height="32.0" fill="#fdb8a8" stroke="#2a1a10" stroke-width="1.2"/>
<rect x="2341.0" y="2687.2" width="12.2" height="66.1" fill="#4d5cf5" stroke="#141a60" stroke-width="1.2"/>
<rect x="2359.2" y="2689.1" width="12.2" height="64.2" fill="#a8fce0" stroke="#1a302a" stroke-width="1.2"/>
<rect x="2562.2" y="2741.4" width="12.2" height="11.9" fill="#e4e4e4" stroke="#2a2a2a" stroke-width="1.2"/>
<rect x="2580.4" y="2731.6" width="12.2" height="21.7" fill="#fdb8a8" stroke="#2a1a10" stroke-width="1.2"/>
<rect x="2598.6" y="2731.1" width="12.2" height="22.2" fill="#4d5cf5" stroke="#141a60" stroke-width="1.2"/>
<rect x="2616.8" y="2740.7" width="12.2" height="12.6" fill="#a8fce0" stroke="#1a302a" stroke-width="1.2"/>
<rect x="2648.1" y="2585.5" width="12.2" height="167.8" fill="#e4e4e4" stroke="#2a2a2a" stroke-width="1.2"/>
<rect x="2666.3" y="2570.8" width="12.2" height="182.5" fill="#fdb8a8" stroke="#2a1a10" stroke-width="1.2"/>
<rect x="2684.5" y="2544.4" width="12.2" height="208.9" fill="#4d5cf5" stroke="#141a60" stroke-width="1.2"/>
<rect x="2702.7" y="2484.1" width="12.2" height="269.2" fill="#a8fce0" stroke="#1a302a" stroke-width="1.2"/>
<rect x="2752.1" y="2742.8" width="12.2" height="10.5" fill="#fdb8a8" stroke="#2a1a10" stroke-width="1.2"/>
<rect x="2788.5" y="2749.8" width="12.2" height="3.5" fill="#a8fce0" stroke="#1a302a" stroke-width="1.2"/>
<rect x="2819.8" y="2524.8" width="12.2" height="228.5" fill="#e4e4e4" stroke="#2a2a2a" stroke-width="1.2"/>
<rect x="2838.0" y="2562.8" width="12.2" height="190.5" fill="#fdb8a8" stroke="#2a1a10" stroke-width="1.2"/>
<rect x="2856.2" y="2557.5" width="12.2" height="195.8" fill="#4d5cf5" stroke="#141a60" stroke-width="1.2"/>
<rect x="2874.4" y="2517.3" width="12.2" height="236.0" fill="#a8fce0" stroke="#1a302a" stroke-width="1.2"/>
<rect x="2905.6" y="2750.7" width="12.2" height="2.6" fill="#e4e4e4" stroke="#2a2a2a" stroke-width="1.2"/>
<rect x="2923.8" y="2749.8" width="12.2" height="3.5" fill="#fdb8a8" stroke="#2a1a10" stroke-width="1.2"/>
<rect x="2942.0" y="2747.2" width="12.2" height="6.1" fill="#4d5cf5" stroke="#141a60" stroke-width="1.2"/>
<rect x="2960.2" y="2749.8" width="12.2" height="3.5" fill="#a8fce0" stroke="#1a302a" stroke-width="1.2"/>
<line x1="1683.0" y1="2753.3" x2="1698.3" y2="2753.3" stroke="#000" stroke-width="3.5" stroke-linecap="butt"/>
<text x="1677.0" y="2767.8" font-size="42" text-anchor="end">0</text>
<line x1="1683.0" y1="2665.9" x2="1698.3" y2="2665.9" stroke="#000" stroke-width="3.5" stroke-linecap="butt"/>
<text x="1677.0" y="2680.4" font-size="42" text-anchor="end">5</text>
<line x1="1683.0" y1="2578.5" x2="1698.3" y2="2578.5" stroke="#000" stroke-width="3.5" stroke-linecap="butt"/>
<text x="1677.0" y="2593.0" font-size="42" text-anchor="end">10</text>
<line x1="1683.0" y1="2491.1" x2="1698.3" y2="2491.1" stroke="#000" stroke-width="3.5" stroke-linecap="butt"/>
<text x="1677.0" y="2505.6" font-size="42" text-anchor="end">15</text>
<line x1="1683.0" y1="2403.7" x2="1698.3" y2="2403.7" stroke="#000" stroke-width="3.5" stroke-linecap="butt"/>
<text x="1677.0" y="2418.2" font-size="42" text-anchor="end">20</text>
<line x1="1696.6" y1="2369.0" x2="1696.6" y2="2755.1" stroke="#000" stroke-width="3.5" stroke-linecap="butt"/>
<line x1="1682.7" y1="2753.3" x2="2977.2" y2="2753.3" stroke="#000" stroke-width="3.5" stroke-linecap="butt"/>
<line x1="1737.0" y1="2753.3" x2="1737.0" y2="2765.8" stroke="#000" stroke-width="3.5" stroke-linecap="butt"/>
<text x="1752.0" y="2790.3" font-size="42" text-anchor="end" transform="rotate(-45 1752.0 2790.3)">aac(3)-IId</text>
<line x1="1822.9" y1="2753.3" x2="1822.9" y2="2765.8" stroke="#000" stroke-width="3.5" stroke-linecap="butt"/>
<text x="1837.9" y="2790.3" font-size="42" text-anchor="end" transform="rotate(-45 1837.9 2790.3)">aac(3)-IV</text>
<line x1="1908.7" y1="2753.3" x2="1908.7" y2="2765.8" stroke="#000" stroke-width="3.5" stroke-linecap="butt"/>
<text x="1923.7" y="2790.3" font-size="42" text-anchor="end" transform="rotate(-45 1923.7 2790.3)">aac(3)-VIa</text>
<line x1="1994.6" y1="2753.3" x2="1994.6" y2="2765.8" stroke="#000" stroke-width="3.5" stroke-linecap="butt"/>
<text x="2009.6" y="2790.3" font-size="42" text-anchor="end" transform="rotate(-45 2009.6 2790.3)">aadA1</text>
<line x1="2080.4" y1="2753.3" x2="2080.4" y2="2765.8" stroke="#000" stroke-width="3.5" stroke-linecap="butt"/>
<text x="2095.4" y="2790.3" font-size="42" text-anchor="end" transform="rotate(-45 2095.4 2790.3)">aadA12</text>
<line x1="2166.3" y1="2753.3" x2="2166.3" y2="2765.8" stroke="#000" stroke-width="3.5" stroke-linecap="butt"/>
<text x="2181.3" y="2790.3" font-size="42" text-anchor="end" transform="rotate(-45 2181.3 2790.3)">aadA16</text>
<line x1="2252.2" y1="2753.3" x2="2252.2" y2="2765.8" stroke="#000" stroke-width="3.5" stroke-linecap="butt"/>
<text x="2267.2" y="2790.3" font-size="42" text-anchor="end" transform="rotate(-45 2267.2 2790.3)">aadA17</text>
<line x1="2338.0" y1="2753.3" x2="2338.0" y2="2765.8" stroke="#000" stroke-width="3.5" stroke-linecap="butt"/>
<text x="2353.0" y="2790.3" font-size="42" text-anchor="end" transform="rotate(-45 2353.0 2790.3)">aadA22</text>
<line x1="2423.9" y1="2753.3" x2="2423.9" y2="2765.8" stroke="#000" stroke-width="3.5" stroke-linecap="butt"/>
<text x="2438.9" y="2790.3" font-size="42" text-anchor="end" transform="rotate(-45 2438.9 2790.3)">aadA24</text>
<line x1="2509.7" y1="2753.3" x2="2509.7" y2="2765.8" stroke="#000" stroke-width="3.5" stroke-linecap="butt"/>
<text x="2524.7" y="2790.3" font-size="42" text-anchor="end" transform="rotate(-45 2524.7 2790.3)">aadA3</text>
<line x1="2595.6" y1="2753.3" x2="2595.6" y2="2765.8" stroke="#000" stroke-width="3.5" stroke-linecap="butt"/>
<text x="2610.6" y="2790.3" font-size="42" text-anchor="end" transform="rotate(-45 2610.6 2790.3)">aadA5</text>
<line x1="2681.5" y1="2753.3" x2="2681.5" y2="2765.8" stroke="#000" stroke-width="3.5" stroke-linecap="butt"/>
<text x="2696.5" y="2790.3" font-size="42" text-anchor="end" transform="rotate(-45 2696.5 2790.3)">aph(3')-Ia</text>
<line x1="2767.3" y1="2753.3" x2="2767.3" y2="2765.8" stroke="#000" stroke-width="3.5" stroke-linecap="butt"/>
<text x="2782.3" y="2790.3" font-size="42" text-anchor="end" transform="rotate(-45 2782.3 2790.3)">aph(3')-IIa</text>
<line x1="2853.2" y1="2753.3" x2="2853.2" y2="2765.8" stroke="#000" stroke-width="3.5" stroke-linecap="butt"/>
<text x="2868.2" y="2790.3" font-size="42" text-anchor="end" transform="rotate(-45 2868.2 2790.3)">aph(4)-Ia</text>
<line x1="2939.0" y1="2753.3" x2="2939.0" y2="2765.8" stroke="#000" stroke-width="3.5" stroke-linecap="butt"/>
<text x="2954.0" y="2790.3" font-size="42" text-anchor="end" transform="rotate(-45 2954.0 2790.3)">rmtB</text>
<text x="3064.3" y="2312.7" font-size="67.5" text-anchor="start">K</text>
<text x="3477.0" y="2289.0" font-size="41.8" text-anchor="middle">Rifampicin</text>
<rect x="3196.1" y="2548.7" width="43.0" height="198.2" fill="#e4e4e4" stroke="#2a2a2a" stroke-width="1.4"/>
<rect x="3260.1" y="2545.6" width="43.0" height="201.3" fill="#fdb8a8" stroke="#2a1a10" stroke-width="1.4"/>
<rect x="3324.1" y="2536.2" width="43.0" height="210.7" fill="#4d5cf5" stroke="#141a60" stroke-width="1.4"/>
<rect x="3388.1" y="2442.9" width="43.0" height="304.0" fill="#a8fce0" stroke="#1a302a" stroke-width="1.4"/>
<rect x="3495.1" y="2535.3" width="43.0" height="211.6" fill="#e4e4e4" stroke="#2a2a2a" stroke-width="1.4"/>
<rect x="3559.1" y="2512.9" width="43.0" height="234.0" fill="#fdb8a8" stroke="#2a1a10" stroke-width="1.4"/>
<rect x="3623.1" y="2508.7" width="43.0" height="238.2" fill="#4d5cf5" stroke="#141a60" stroke-width="1.4"/>
<rect x="3687.1" y="2503.9" width="43.0" height="243.0" fill="#a8fce0" stroke="#1a302a" stroke-width="1.4"/>
<line x1="3161.4" y1="2746.9" x2="3176.8" y2="2746.9" stroke="#000" stroke-width="3.5" stroke-linecap="butt"/>
<text x="3157.0" y="2761.4" font-size="42" text-anchor="end">0</text>
<line x1="3161.4" y1="2650.7" x2="3176.8" y2="2650.7" stroke="#000" stroke-width="3.5" stroke-linecap="butt"/>
<text x="3157.0" y="2665.2" font-size="42" text-anchor="end">5</text>
<line x1="3161.4" y1="2554.5" x2="3176.8" y2="2554.5" stroke="#000" stroke-width="3.5" stroke-linecap="butt"/>
<text x="3157.0" y="2569.0" font-size="42" text-anchor="end">10</text>
<line x1="3161.4" y1="2458.3" x2="3176.8" y2="2458.3" stroke="#000" stroke-width="3.5" stroke-linecap="butt"/>
<text x="3157.0" y="2472.8" font-size="42" text-anchor="end">15</text>
<line x1="3161.4" y1="2362.1" x2="3176.8" y2="2362.1" stroke="#000" stroke-width="3.5" stroke-linecap="butt"/>
<text x="3157.0" y="2376.6" font-size="42" text-anchor="end">20</text>
<line x1="3175.0" y1="2360.3" x2="3175.0" y2="2748.7" stroke="#000" stroke-width="3.5" stroke-linecap="butt"/>
<line x1="3161.7" y1="2746.9" x2="3751.6" y2="2746.9" stroke="#000" stroke-width="3.5" stroke-linecap="butt"/>
<line x1="3313.5" y1="2746.9" x2="3313.5" y2="2759.4" stroke="#000" stroke-width="3.5" stroke-linecap="butt"/>
<text x="3313.5" y="2802.0" font-size="42" text-anchor="middle">ARR-2</text>
<line x1="3612.5" y1="2746.9" x2="3612.5" y2="2759.4" stroke="#000" stroke-width="3.5" stroke-linecap="butt"/>
<text x="3612.5" y="2802.0" font-size="42" text-anchor="middle">ARR-3</text>
</svg></body></html>
